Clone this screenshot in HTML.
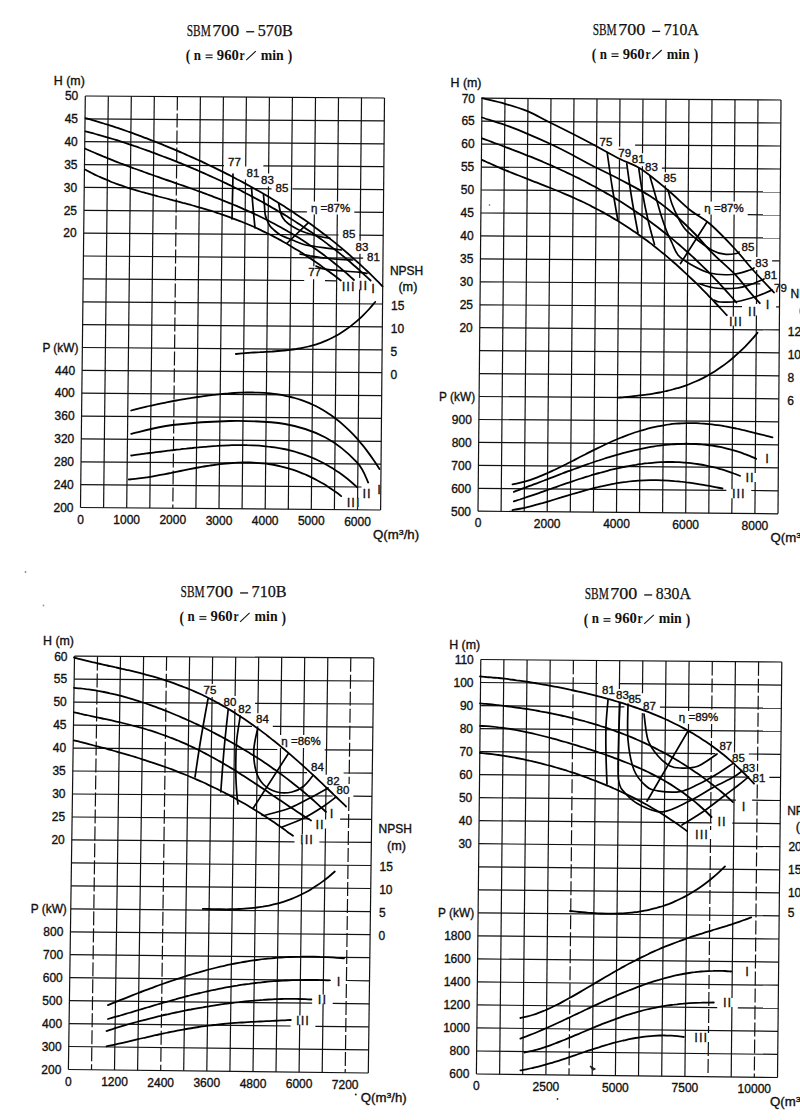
<!DOCTYPE html>
<html><head><meta charset="utf-8"><title>SBM700 pump performance curves</title><style>
html,body{margin:0;padding:0;background:#fff;}
svg{display:block;}
.g{stroke:#111;stroke-width:1.2;}
.gd{stroke:#111;stroke-dasharray:14 3;}
.c{stroke:#000;stroke-width:1.8;fill:none;stroke-linecap:round;stroke-linejoin:round;}
.e{stroke:#000;stroke-width:1.7;fill:none;stroke-linecap:round;stroke-linejoin:round;}
.t{font-family:"Liberation Sans",Arial,sans-serif;font-size:12px;fill:#111;stroke:#111;stroke-width:0.35px;}
.t2{font-size:11.5px;}
.r{font-family:"Liberation Sans",Arial,sans-serif;font-size:13px;letter-spacing:1px;fill:#111;stroke:#111;stroke-width:0.3px;}
.h1{font-family:"Liberation Serif","Noto Serif SC",serif;font-size:16px;fill:#111;stroke:#111;stroke-width:0.25px;}
.h2{font-family:"Liberation Serif","Noto Serif SC",serif;font-size:15px;font-weight:bold;fill:#111;}
</style></head><body>
<svg width="800" height="1120" viewBox="0 0 800 1120">
<rect width="800" height="1120" fill="#fff"/>
<line class="g" x1="85.3" y1="96.0" x2="80.5" y2="507.5"/>
<line class="g" x1="108.3" y1="96.2" x2="103.6" y2="507.7"/>
<line class="g" x1="131.3" y1="96.3" x2="126.7" y2="507.9"/>
<line class="g" x1="154.3" y1="96.5" x2="149.8" y2="508.1"/>
<line class="g gd" x1="177.4" y1="96.6" x2="172.8" y2="508.3"/>
<line class="g" x1="200.4" y1="96.8" x2="195.9" y2="508.5"/>
<line class="g" x1="223.4" y1="96.9" x2="219.0" y2="508.7"/>
<line class="g" x1="246.4" y1="97.1" x2="245.7" y2="166.5"/>
<line class="g" x1="245.5" y1="179.5" x2="242.1" y2="508.8"/>
<line class="g" x1="269.4" y1="97.2" x2="268.6" y2="173.5"/>
<line class="g" x1="268.5" y1="186.5" x2="265.2" y2="509.0"/>
<line class="g" x1="292.4" y1="97.4" x2="288.3" y2="509.2"/>
<line class="g" x1="315.5" y1="97.5" x2="314.4" y2="201.5"/>
<line class="g" x1="314.3" y1="214.5" x2="313.8" y2="266.2"/>
<line class="g" x1="313.6" y1="279.2" x2="311.3" y2="509.4"/>
<line class="g" x1="338.5" y1="97.7" x2="337.5" y2="201.5"/>
<line class="g" x1="337.3" y1="214.5" x2="334.4" y2="509.6"/>
<line class="g" x1="361.5" y1="97.8" x2="360.1" y2="240.7"/>
<line class="g" x1="360.0" y1="253.7" x2="359.7" y2="278.0"/>
<line class="g" x1="359.6" y1="289.5" x2="357.6" y2="498.2"/>
<line class="g" x1="357.5" y1="507.2" x2="357.5" y2="509.8"/>
<line class="g" x1="384.5" y1="98.0" x2="380.6" y2="510.0"/>
<line class="g" x1="85.3" y1="96.0" x2="384.5" y2="98.0"/>
<line class="g" x1="85.0" y1="118.9" x2="384.3" y2="120.9"/>
<line class="g" x1="84.8" y1="141.7" x2="384.1" y2="143.8"/>
<line class="g" x1="84.5" y1="164.6" x2="224.0" y2="165.6"/>
<line class="g" x1="263.4" y1="165.8" x2="383.9" y2="166.7"/>
<line class="g" x1="84.2" y1="187.4" x2="271.6" y2="188.8"/>
<line class="g" x1="292.4" y1="188.9" x2="383.6" y2="189.6"/>
<line class="g" x1="84.0" y1="210.3" x2="306.9" y2="211.9"/>
<line class="g" x1="354.3" y1="212.2" x2="383.4" y2="212.4"/>
<line class="g" x1="83.7" y1="233.2" x2="338.6" y2="235.0"/>
<line class="g" x1="359.4" y1="235.2" x2="383.2" y2="235.3"/>
<line class="g" x1="83.4" y1="256.0" x2="363.1" y2="258.1"/>
<line class="g" x1="83.2" y1="278.9" x2="304.2" y2="280.5"/>
<line class="g" x1="325.0" y1="280.7" x2="336.2" y2="280.8"/>
<line class="g" x1="82.9" y1="301.8" x2="382.6" y2="304.0"/>
<line class="g" x1="82.6" y1="324.6" x2="382.3" y2="326.9"/>
<line class="g" x1="82.4" y1="347.5" x2="382.1" y2="349.8"/>
<line class="g" x1="82.1" y1="370.3" x2="381.9" y2="372.7"/>
<line class="g" x1="81.8" y1="393.2" x2="381.7" y2="395.6"/>
<line class="g" x1="81.6" y1="416.1" x2="381.5" y2="418.4"/>
<line class="g" x1="81.3" y1="438.9" x2="381.2" y2="441.3"/>
<line class="g" x1="81.0" y1="461.8" x2="381.0" y2="464.2"/>
<line class="g" x1="80.8" y1="484.6" x2="361.5" y2="487.0"/>
<line class="g" x1="80.5" y1="507.5" x2="380.6" y2="510.0"/>
<line class="g" x1="482.0" y1="98.2" x2="478.0" y2="511.2"/>
<line class="g" x1="505.0" y1="98.4" x2="501.1" y2="511.4"/>
<line class="g" x1="528.0" y1="98.5" x2="524.2" y2="511.6"/>
<line class="g" x1="551.0" y1="98.7" x2="547.2" y2="511.8"/>
<line class="g" x1="574.0" y1="98.8" x2="570.3" y2="512.0"/>
<line class="g" x1="597.0" y1="98.9" x2="593.4" y2="512.2"/>
<line class="g" x1="620.0" y1="99.1" x2="619.6" y2="146.5"/>
<line class="g" x1="619.5" y1="159.5" x2="616.5" y2="512.4"/>
<line class="g" x1="643.0" y1="99.2" x2="642.5" y2="153.2"/>
<line class="g" x1="642.4" y1="166.2" x2="639.5" y2="512.6"/>
<line class="g" x1="666.0" y1="99.3" x2="665.4" y2="172.3"/>
<line class="g" x1="665.3" y1="185.3" x2="662.6" y2="512.8"/>
<line class="g" x1="689.0" y1="99.5" x2="685.7" y2="513.0"/>
<line class="g" x1="712.0" y1="99.6" x2="711.2" y2="201.5"/>
<line class="g" x1="711.1" y1="214.5" x2="708.8" y2="513.2"/>
<line class="g" x1="735.0" y1="99.7" x2="734.2" y2="201.5"/>
<line class="g" x1="734.1" y1="214.5" x2="733.3" y2="316.5"/>
<line class="g" x1="733.3" y1="325.5" x2="732.0" y2="489.2"/>
<line class="g" x1="732.0" y1="498.2" x2="731.8" y2="513.4"/>
<line class="g" x1="758.0" y1="99.9" x2="756.8" y2="257.0"/>
<line class="g" x1="756.7" y1="270.0" x2="756.5" y2="304.0"/>
<line class="g" x1="756.4" y1="315.5" x2="755.2" y2="473.0"/>
<line class="g" x1="755.2" y1="482.0" x2="754.9" y2="513.6"/>
<line class="g" x1="781.0" y1="100.0" x2="778.0" y2="513.8"/>
<line class="g" x1="482.0" y1="98.2" x2="781.0" y2="100.0"/>
<line class="g" x1="481.8" y1="121.2" x2="780.8" y2="123.0"/>
<line class="g" x1="481.6" y1="144.1" x2="595.6" y2="144.8"/>
<line class="g" x1="635.1" y1="145.1" x2="780.7" y2="146.0"/>
<line class="g" x1="481.3" y1="167.1" x2="627.8" y2="168.0"/>
<line class="g" x1="661.9" y1="168.2" x2="780.5" y2="169.0"/>
<line class="g" x1="481.1" y1="190.0" x2="780.3" y2="191.9"/>
<line class="g" x1="480.9" y1="213.0" x2="700.3" y2="214.4"/>
<line class="g" x1="747.7" y1="214.7" x2="780.2" y2="214.9"/>
<line class="g" x1="480.7" y1="235.9" x2="780.0" y2="237.9"/>
<line class="g" x1="480.4" y1="258.9" x2="751.3" y2="260.7"/>
<line class="g" x1="772.1" y1="260.8" x2="779.8" y2="260.9"/>
<line class="g" x1="480.2" y1="281.8" x2="760.3" y2="283.8"/>
<line class="g" x1="480.0" y1="304.8" x2="742.0" y2="306.6"/>
<line class="g" x1="776.1" y1="306.9" x2="779.5" y2="306.9"/>
<line class="g" x1="479.8" y1="327.7" x2="779.3" y2="329.9"/>
<line class="g" x1="479.6" y1="350.6" x2="779.2" y2="352.8"/>
<line class="g" x1="479.3" y1="373.6" x2="779.0" y2="375.8"/>
<line class="g" x1="479.1" y1="396.5" x2="778.8" y2="398.8"/>
<line class="g" x1="478.9" y1="419.5" x2="778.7" y2="421.8"/>
<line class="g" x1="478.7" y1="442.4" x2="778.5" y2="444.8"/>
<line class="g" x1="478.4" y1="465.4" x2="778.3" y2="467.8"/>
<line class="g" x1="478.2" y1="488.3" x2="726.3" y2="490.3"/>
<line class="g" x1="751.2" y1="490.5" x2="778.2" y2="490.8"/>
<line class="g" x1="478.0" y1="511.2" x2="778.0" y2="513.8"/>
<line class="g" x1="74.5" y1="656.2" x2="68.4" y2="1069.5"/>
<line class="g gd" x1="97.5" y1="656.4" x2="91.5" y2="1069.8"/>
<line class="g" x1="120.5" y1="656.5" x2="114.5" y2="1070.0"/>
<line class="g" x1="143.6" y1="656.6" x2="137.6" y2="1070.3"/>
<line class="g gd" x1="166.6" y1="656.8" x2="160.7" y2="1070.6"/>
<line class="g" x1="189.6" y1="656.9" x2="183.7" y2="1070.8"/>
<line class="g" x1="212.6" y1="657.0" x2="212.3" y2="684.0"/>
<line class="g" x1="212.1" y1="697.0" x2="206.8" y2="1071.1"/>
<line class="g" x1="235.7" y1="657.1" x2="235.1" y2="696.0"/>
<line class="g" x1="234.9" y1="709.0" x2="229.9" y2="1071.4"/>
<line class="g" x1="258.7" y1="657.3" x2="257.9" y2="713.2"/>
<line class="g" x1="257.7" y1="726.2" x2="253.0" y2="1071.7"/>
<line class="g" x1="281.7" y1="657.4" x2="280.6" y2="735.0"/>
<line class="g" x1="280.5" y1="748.0" x2="276.0" y2="1071.9"/>
<line class="g" x1="304.7" y1="657.5" x2="303.7" y2="735.0"/>
<line class="g" x1="303.5" y1="748.0" x2="302.3" y2="834.5"/>
<line class="g" x1="302.2" y1="843.5" x2="299.9" y2="1015.5"/>
<line class="g" x1="299.7" y1="1024.5" x2="299.1" y2="1072.2"/>
<line class="g" x1="327.8" y1="657.6" x2="326.2" y2="774.7"/>
<line class="g" x1="326.0" y1="787.7" x2="325.6" y2="819.5"/>
<line class="g" x1="325.5" y1="828.5" x2="323.2" y2="994.5"/>
<line class="g" x1="323.1" y1="1003.5" x2="322.2" y2="1072.5"/>
<line class="g gd" x1="350.8" y1="657.8" x2="349.1" y2="784.0"/>
<line class="g gd" x1="348.9" y1="797.0" x2="345.2" y2="1072.7"/>
<line class="g" x1="373.8" y1="657.9" x2="368.3" y2="1073.0"/>
<line class="g" x1="74.5" y1="656.2" x2="373.8" y2="657.9"/>
<line class="g" x1="74.2" y1="679.2" x2="373.5" y2="681.0"/>
<line class="g" x1="73.8" y1="702.2" x2="219.6" y2="703.1"/>
<line class="g" x1="255.1" y1="703.3" x2="373.2" y2="704.0"/>
<line class="g" x1="73.5" y1="725.1" x2="252.0" y2="726.3"/>
<line class="g" x1="272.8" y1="726.4" x2="372.9" y2="727.1"/>
<line class="g" x1="73.1" y1="748.1" x2="277.3" y2="749.5"/>
<line class="g" x1="324.7" y1="749.8" x2="372.6" y2="750.1"/>
<line class="g" x1="72.8" y1="771.0" x2="307.1" y2="772.7"/>
<line class="g" x1="343.6" y1="773.0" x2="372.3" y2="773.2"/>
<line class="g" x1="72.5" y1="794.0" x2="332.6" y2="796.0"/>
<line class="g" x1="353.4" y1="796.1" x2="372.0" y2="796.3"/>
<line class="g" x1="72.1" y1="817.0" x2="309.7" y2="818.8"/>
<line class="g" x1="340.1" y1="819.1" x2="371.7" y2="819.3"/>
<line class="g" x1="71.8" y1="839.9" x2="294.5" y2="841.8"/>
<line class="g" x1="319.4" y1="842.0" x2="371.4" y2="842.4"/>
<line class="g" x1="71.5" y1="862.9" x2="371.1" y2="865.5"/>
<line class="g" x1="71.1" y1="885.8" x2="370.7" y2="888.5"/>
<line class="g" x1="70.8" y1="908.8" x2="370.4" y2="911.6"/>
<line class="g" x1="70.4" y1="931.8" x2="370.1" y2="934.6"/>
<line class="g" x1="70.1" y1="954.7" x2="369.8" y2="957.7"/>
<line class="g" x1="69.8" y1="977.7" x2="330.9" y2="980.4"/>
<line class="g" x1="347.1" y1="980.5" x2="369.5" y2="980.8"/>
<line class="g" x1="69.4" y1="1000.6" x2="312.1" y2="1003.2"/>
<line class="g" x1="332.7" y1="1003.4" x2="369.2" y2="1003.8"/>
<line class="g" x1="69.1" y1="1023.6" x2="290.6" y2="1026.0"/>
<line class="g" x1="315.4" y1="1026.3" x2="368.9" y2="1026.9"/>
<line class="g" x1="68.7" y1="1046.5" x2="368.6" y2="1049.9"/>
<line class="g" x1="68.4" y1="1069.5" x2="368.3" y2="1073.0"/>
<line class="g" x1="480.8" y1="659.5" x2="476.4" y2="1074.0"/>
<line class="g" x1="503.9" y1="659.7" x2="499.6" y2="1074.3"/>
<line class="g" x1="527.1" y1="659.9" x2="522.7" y2="1074.5"/>
<line class="g" x1="550.2" y1="660.1" x2="545.9" y2="1074.8"/>
<line class="g gd" x1="573.4" y1="660.3" x2="569.0" y2="1075.1"/>
<line class="g" x1="596.5" y1="660.5" x2="592.2" y2="1075.3"/>
<line class="g" x1="619.7" y1="660.7" x2="619.4" y2="689.0"/>
<line class="g" x1="619.2" y1="702.0" x2="615.4" y2="1075.6"/>
<line class="g" x1="642.8" y1="660.8" x2="642.5" y2="693.3"/>
<line class="g" x1="642.3" y1="713.0" x2="638.5" y2="1075.9"/>
<line class="g" x1="666.0" y1="661.0" x2="661.7" y2="1076.2"/>
<line class="g" x1="689.1" y1="661.2" x2="688.6" y2="711.0"/>
<line class="g" x1="688.5" y1="724.0" x2="684.9" y2="1076.4"/>
<line class="g gd" x1="712.3" y1="661.4" x2="711.8" y2="711.0"/>
<line class="g gd" x1="711.6" y1="724.0" x2="710.6" y2="830.0"/>
<line class="g gd" x1="710.5" y1="839.0" x2="708.5" y2="1033.0"/>
<line class="g gd" x1="708.4" y1="1042.0" x2="708.0" y2="1076.7"/>
<line class="g" x1="735.4" y1="661.6" x2="734.5" y2="752.4"/>
<line class="g" x1="734.4" y1="765.4" x2="732.0" y2="998.0"/>
<line class="g" x1="731.9" y1="1007.0" x2="731.2" y2="1077.0"/>
<line class="g gd" x1="758.6" y1="661.8" x2="757.5" y2="771.6"/>
<line class="g gd" x1="757.3" y1="784.6" x2="754.3" y2="1077.2"/>
<line class="g" x1="781.8" y1="662.0" x2="777.5" y2="1077.5"/>
<line class="g" x1="480.8" y1="659.5" x2="781.8" y2="662.0"/>
<line class="g" x1="480.5" y1="682.5" x2="598.1" y2="683.5"/>
<line class="g" x1="618.9" y1="683.7" x2="781.5" y2="685.1"/>
<line class="g" x1="480.3" y1="705.6" x2="624.4" y2="706.8"/>
<line class="g" x1="659.9" y1="707.1" x2="781.3" y2="708.2"/>
<line class="g" x1="480.0" y1="728.6" x2="781.0" y2="731.2"/>
<line class="g" x1="479.8" y1="751.6" x2="715.4" y2="753.7"/>
<line class="g" x1="748.8" y1="754.0" x2="780.8" y2="754.3"/>
<line class="g" x1="479.5" y1="774.6" x2="748.5" y2="777.1"/>
<line class="g" x1="769.3" y1="777.3" x2="780.6" y2="777.4"/>
<line class="g" x1="479.3" y1="797.7" x2="735.9" y2="800.1"/>
<line class="g" x1="752.1" y1="800.2" x2="780.3" y2="800.5"/>
<line class="g" x1="479.1" y1="820.7" x2="711.7" y2="822.9"/>
<line class="g" x1="732.3" y1="823.1" x2="780.1" y2="823.6"/>
<line class="g" x1="478.8" y1="843.7" x2="779.9" y2="846.7"/>
<line class="g" x1="478.6" y1="866.8" x2="779.6" y2="869.8"/>
<line class="g" x1="478.3" y1="889.8" x2="779.4" y2="892.8"/>
<line class="g" x1="478.1" y1="912.8" x2="779.2" y2="915.9"/>
<line class="g" x1="477.9" y1="935.8" x2="778.9" y2="939.0"/>
<line class="g" x1="477.6" y1="958.9" x2="778.7" y2="962.1"/>
<line class="g" x1="477.4" y1="981.9" x2="778.4" y2="985.2"/>
<line class="g" x1="477.1" y1="1004.9" x2="717.2" y2="1007.6"/>
<line class="g" x1="737.8" y1="1007.8" x2="778.2" y2="1008.2"/>
<line class="g" x1="476.9" y1="1027.9" x2="778.0" y2="1031.3"/>
<line class="g" x1="476.6" y1="1051.0" x2="777.7" y2="1054.4"/>
<line class="g" x1="476.4" y1="1074.0" x2="777.5" y2="1077.5"/>
<path class="c" d="M85.5,118.2C86.5,118.5 89.5,119.3 91.6,119.9C93.6,120.5 95.6,121.1 97.6,121.7C99.6,122.3 101.7,122.9 103.7,123.5C105.7,124.1 107.7,124.8 109.7,125.4C111.8,126.0 113.8,126.7 115.8,127.4C117.8,128.0 119.8,128.7 121.9,129.4C123.9,130.1 125.9,130.8 127.9,131.5C129.9,132.2 132.0,132.9 134.0,133.7C136.0,134.4 138.0,135.2 140.1,135.9C142.1,136.7 144.1,137.4 146.1,138.2C148.1,139.0 150.2,139.7 152.2,140.5C154.2,141.3 156.2,142.1 158.2,142.9C160.3,143.7 162.3,144.5 164.3,145.4C166.3,146.2 168.3,147.0 170.4,147.9C172.4,148.7 174.4,149.6 176.4,150.4C178.4,151.3 180.5,152.2 182.5,153.0C184.5,153.9 186.5,154.8 188.5,155.7C190.6,156.6 192.6,157.5 194.6,158.4C196.6,159.3 198.6,160.3 200.7,161.2C202.7,162.1 204.7,163.1 206.7,164.0C208.7,165.0 210.8,166.0 212.8,166.9C214.8,167.9 216.8,168.9 218.8,169.9C220.9,170.9 222.9,171.9 224.9,172.9C226.9,173.9 228.9,175.0 231.0,176.0C233.0,177.0 235.0,178.1 237.0,179.2C239.1,180.2 241.1,181.3 243.1,182.4C245.1,183.5 247.1,184.6 249.2,185.7C251.2,186.8 253.2,187.9 255.2,189.1C257.2,190.2 259.3,191.4 261.3,192.5C263.3,193.7 265.3,194.9 267.3,196.1C269.4,197.3 271.4,198.5 273.4,199.7C275.4,200.9 277.4,202.1 279.5,203.4C281.5,204.7 283.5,205.9 285.5,207.2C287.5,208.5 289.6,209.8 291.6,211.1C293.6,212.5 295.6,213.8 297.6,215.2C299.7,216.5 301.7,217.9 303.7,219.3C305.7,220.7 307.7,222.1 309.8,223.6C311.8,225.0 313.8,226.5 315.8,228.0C317.8,229.4 319.9,231.0 321.9,232.5C323.9,234.0 325.9,235.6 327.9,237.1C330.0,238.7 332.0,240.3 334.0,241.9C336.0,243.6 338.1,245.2 340.1,246.9C342.1,248.6 344.1,250.3 346.1,252.0C348.2,253.7 350.2,255.5 352.2,257.3C354.2,259.1 356.2,260.9 358.3,262.7C360.3,264.6 362.3,266.4 364.3,268.4C366.3,270.3 368.4,272.2 370.4,274.2C372.4,276.2 374.4,278.2 376.4,280.2C378.5,282.2 381.5,285.4 382.5,286.4"/>
<path class="c" d="M85.5,131.4C86.5,131.6 89.5,132.4 91.6,132.9C93.6,133.5 95.6,134.0 97.6,134.6C99.7,135.2 101.7,135.7 103.7,136.3C105.7,136.9 107.7,137.5 109.8,138.1C111.8,138.7 113.8,139.3 115.8,139.9C117.9,140.6 119.9,141.2 121.9,141.9C123.9,142.5 125.9,143.2 128.0,143.8C130.0,144.5 132.0,145.2 134.0,145.9C136.0,146.5 138.1,147.2 140.1,148.0C142.1,148.7 144.1,149.4 146.2,150.1C148.2,150.8 150.2,151.6 152.2,152.3C154.2,153.0 156.3,153.8 158.3,154.6C160.3,155.3 162.3,156.1 164.4,156.9C166.4,157.6 168.4,158.4 170.4,159.2C172.4,160.0 174.5,160.8 176.5,161.6C178.5,162.4 180.5,163.3 182.6,164.1C184.6,164.9 186.6,165.8 188.6,166.6C190.6,167.5 192.7,168.3 194.7,169.2C196.7,170.0 198.7,170.9 200.8,171.8C202.8,172.7 204.8,173.6 206.8,174.5C208.8,175.4 210.9,176.3 212.9,177.2C214.9,178.2 216.9,179.1 219.0,180.0C221.0,181.0 223.0,181.9 225.0,182.9C227.0,183.9 229.1,184.8 231.1,185.8C233.1,186.8 235.1,187.8 237.1,188.8C239.2,189.8 241.2,190.8 243.2,191.9C245.2,192.9 247.3,194.0 249.3,195.0C251.3,196.1 253.3,197.1 255.3,198.2C257.4,199.3 259.4,200.4 261.4,201.5C263.4,202.6 265.5,203.7 267.5,204.9C269.5,206.0 271.5,207.2 273.5,208.4C275.6,209.5 277.6,210.7 279.6,211.9C281.6,213.1 283.7,214.3 285.7,215.6C287.7,216.8 289.7,218.1 291.7,219.3C293.8,220.6 295.8,221.9 297.8,223.2C299.8,224.5 301.9,225.8 303.9,227.2C305.9,228.5 307.9,229.9 309.9,231.3C312.0,232.7 314.0,234.1 316.0,235.5C318.0,237.0 320.1,238.4 322.1,239.9C324.1,241.4 326.1,242.9 328.1,244.4C330.2,245.9 332.2,247.5 334.2,249.0C336.2,250.6 338.2,252.2 340.3,253.9C342.3,255.5 344.3,257.1 346.3,258.8C348.4,260.5 350.4,262.2 352.4,264.0C354.4,265.7 356.4,267.5 358.5,269.3C360.5,271.1 362.5,272.9 364.5,274.8C366.6,276.7 369.6,279.5 370.6,280.5"/>
<path class="c" d="M85.5,148.7C86.5,149.2 89.6,150.6 91.6,151.5C93.6,152.3 95.7,153.2 97.7,154.1C99.7,155.0 101.8,155.8 103.8,156.7C105.8,157.5 107.9,158.3 109.9,159.1C111.9,160.0 114.0,160.8 116.0,161.6C118.0,162.4 120.1,163.1 122.1,163.9C124.1,164.7 126.2,165.5 128.2,166.2C130.2,167.0 132.3,167.7 134.3,168.5C136.4,169.2 138.4,170.0 140.4,170.7C142.5,171.4 144.5,172.2 146.5,172.9C148.6,173.6 150.6,174.3 152.6,175.0C154.7,175.8 156.7,176.5 158.7,177.2C160.8,177.9 162.8,178.6 164.8,179.3C166.9,180.0 168.9,180.7 170.9,181.4C173.0,182.1 175.0,182.8 177.0,183.6C179.1,184.3 181.1,185.0 183.1,185.7C185.2,186.4 187.2,187.1 189.2,187.9C191.3,188.6 193.3,189.3 195.3,190.0C197.4,190.8 199.4,191.5 201.4,192.2C203.5,193.0 205.5,193.7 207.5,194.5C209.6,195.3 211.6,196.0 213.6,196.8C215.7,197.6 217.7,198.4 219.8,199.1C221.8,199.9 223.8,200.7 225.9,201.6C227.9,202.4 229.9,203.2 232.0,204.0C234.0,204.9 236.0,205.7 238.1,206.6C240.1,207.5 242.1,208.4 244.2,209.3C246.2,210.1 248.2,211.1 250.3,212.0C252.3,212.9 254.3,213.9 256.4,214.8C258.4,215.8 260.4,216.8 262.5,217.8C264.5,218.8 266.5,219.8 268.6,220.8C270.6,221.9 272.6,222.9 274.7,224.0C276.7,225.1 278.7,226.2 280.8,227.3C282.8,228.4 284.8,229.6 286.9,230.8C288.9,231.9 290.9,233.1 293.0,234.3C295.0,235.6 297.0,236.8 299.1,238.1C301.1,239.4 303.1,240.7 305.2,242.0C307.2,243.3 309.2,244.7 311.3,246.1C313.3,247.5 315.4,248.9 317.4,250.3C319.4,251.8 321.5,253.3 323.5,254.8C325.5,256.3 327.6,257.8 329.6,259.4C331.6,261.0 333.7,262.6 335.7,264.2C337.7,265.9 339.8,267.5 341.8,269.3C343.8,271.0 345.9,272.7 347.9,274.5C349.9,276.3 353.0,279.1 354.0,280.0"/>
<path class="c" d="M85.5,169.8C86.5,170.4 89.6,172.0 91.6,173.0C93.6,174.1 95.6,175.1 97.7,176.0C99.7,176.9 101.7,177.9 103.7,178.7C105.8,179.6 107.8,180.4 109.8,181.2C111.8,182.1 113.9,182.8 115.9,183.6C117.9,184.3 119.9,185.0 122.0,185.7C124.0,186.4 126.0,187.1 128.0,187.8C130.1,188.4 132.1,189.0 134.1,189.7C136.1,190.3 138.2,190.9 140.2,191.5C142.2,192.1 144.2,192.6 146.3,193.2C148.3,193.7 150.3,194.3 152.4,194.8C154.4,195.4 156.4,195.9 158.4,196.5C160.5,197.0 162.5,197.5 164.5,198.0C166.5,198.6 168.6,199.1 170.6,199.6C172.6,200.1 174.6,200.7 176.7,201.2C178.7,201.7 180.7,202.2 182.7,202.8C184.8,203.3 186.8,203.9 188.8,204.4C190.8,205.0 192.9,205.5 194.9,206.1C196.9,206.7 198.9,207.2 201.0,207.8C203.0,208.4 205.0,209.0 207.0,209.6C209.1,210.2 211.1,210.9 213.1,211.5C215.2,212.2 217.2,212.8 219.2,213.5C221.2,214.2 223.3,214.9 225.3,215.6C227.3,216.3 229.3,217.0 231.4,217.8C233.4,218.5 235.4,219.3 237.4,220.1C239.5,220.8 241.5,221.7 243.5,222.5C245.5,223.3 247.6,224.2 249.6,225.0C251.6,225.9 253.6,226.8 255.7,227.7C257.7,228.7 259.7,229.6 261.7,230.6C263.8,231.5 265.8,232.5 267.8,233.5C269.8,234.5 271.9,235.6 273.9,236.6C275.9,237.7 278.0,238.8 280.0,239.9C282.0,241.0 284.0,242.2 286.1,243.3C288.1,244.5 290.1,245.7 292.1,246.9C294.2,248.1 296.2,249.3 298.2,250.6C300.2,251.9 302.3,253.1 304.3,254.4C306.3,255.8 308.3,257.1 310.4,258.4C312.4,259.8 314.4,261.2 316.4,262.6C318.5,264.0 320.5,265.4 322.5,266.9C324.5,268.3 326.6,269.8 328.6,271.3C330.6,272.8 332.6,274.3 334.7,275.8C336.7,277.4 339.7,279.7 340.8,280.5"/>
<path class="e" d="M233.0,174.0C232.9,177.8 232.7,189.5 232.5,197.0C232.3,204.5 232.1,215.3 232.0,219.0"/>
<path class="e" d="M251.5,187.5C251.8,190.8 252.4,200.2 253.0,207.0C253.6,213.8 254.7,224.5 255.0,228.0"/>
<path class="e" d="M263.5,194.5C263.6,196.2 264.1,201.8 264.4,205.0C264.7,208.2 264.7,211.5 265.1,214.0C265.5,216.5 266.2,218.0 267.0,220.0C267.8,222.0 268.8,224.2 270.0,226.0C271.2,227.8 272.8,229.0 274.5,230.5C276.2,232.0 278.4,233.8 280.5,235.0C282.6,236.2 284.9,237.0 287.2,238.0C289.6,239.0 292.0,239.9 294.8,241.0C297.5,242.1 300.4,243.6 303.8,244.5C307.1,245.4 310.8,245.9 315.0,246.5C319.2,247.1 324.3,247.7 328.8,248.3C333.2,248.9 339.4,249.7 341.5,250.0"/>
<path class="e" d="M278.6,203.2C278.7,203.5 278.7,203.5 279.0,205.0C279.3,206.5 279.9,210.4 280.5,212.5C281.1,214.6 281.8,216.1 282.8,217.8C283.8,219.4 285.0,220.9 286.5,222.2C288.0,223.6 289.8,224.8 291.8,226.0C293.8,227.2 296.1,228.6 298.5,229.8C300.9,230.9 303.5,231.9 306.0,232.8C308.5,233.6 310.8,234.3 313.5,235.0C316.2,235.7 319.2,236.4 322.0,237.0C324.8,237.6 328.7,238.1 330.0,238.3"/>
<path class="e" d="M300.0,254.0C301.7,254.3 305.8,255.1 310.0,255.8C314.2,256.4 320.0,257.4 325.0,258.0C330.0,258.6 335.4,259.2 340.0,259.5C344.6,259.8 350.6,259.9 352.8,260.0"/>
<path class="e" d="M316.0,266.0C317.5,266.5 320.4,268.4 325.0,269.2C329.6,270.1 338.1,270.5 343.8,271.0C349.4,271.5 354.9,271.9 358.8,272.2C362.6,272.6 365.6,273.2 367.0,273.4"/>
<path class="e" d="M308.2,222.8L287.2,243.0"/>
<path class="c" d="M131.2,410.5C132.3,410.2 135.3,409.4 137.3,408.9C139.3,408.4 141.3,407.9 143.4,407.4C145.4,406.9 147.4,406.5 149.4,406.0C151.4,405.5 153.5,405.1 155.5,404.7C157.5,404.2 159.5,403.8 161.5,403.4C163.5,403.0 165.6,402.6 167.6,402.2C169.6,401.8 171.6,401.4 173.6,401.0C175.7,400.6 177.7,400.3 179.7,399.9C181.7,399.6 183.7,399.2 185.7,398.9C187.8,398.6 189.8,398.2 191.8,397.9C193.8,397.6 195.8,397.3 197.9,397.0C199.9,396.7 201.9,396.4 203.9,396.1C205.9,395.9 207.9,395.6 210.0,395.3C212.0,395.1 214.0,394.8 216.0,394.6C218.0,394.4 220.1,394.2 222.1,394.0C224.1,393.8 226.1,393.6 228.1,393.5C230.1,393.3 232.2,393.2 234.2,393.0C236.2,392.9 238.2,392.8 240.2,392.7C242.3,392.6 244.3,392.6 246.3,392.5C248.3,392.5 250.3,392.5 252.3,392.5C254.4,392.5 256.4,392.6 258.4,392.6C260.4,392.7 262.4,392.8 264.5,392.9C266.5,393.1 268.5,393.3 270.5,393.5C272.5,393.7 274.5,393.9 276.6,394.2C278.6,394.5 280.6,394.8 282.6,395.2C284.6,395.6 286.7,396.0 288.7,396.5C290.7,396.9 292.7,397.4 294.7,398.0C296.8,398.6 298.8,399.2 300.8,399.9C302.8,400.6 304.8,401.3 306.8,402.1C308.9,403.0 310.9,403.8 312.9,404.8C314.9,405.7 316.9,406.7 319.0,407.8C321.0,408.9 323.0,410.0 325.0,411.3C327.0,412.5 329.0,413.9 331.1,415.3C333.1,416.7 335.1,418.2 337.1,419.8C339.1,421.3 341.2,423.0 343.2,424.8C345.2,426.6 347.2,428.5 349.2,430.4C351.2,432.4 353.3,434.5 355.3,436.7C357.3,438.9 359.3,441.2 361.3,443.7C363.4,446.1 365.4,448.7 367.4,451.4C369.4,454.1 371.4,456.9 373.4,459.8C375.5,462.8 378.5,467.5 379.5,469.1"/>
<path class="c" d="M131.2,433.8C138.1,432.3 156.0,427.1 172.5,425.0C189.0,422.9 211.2,421.2 230.0,421.0C248.8,420.8 269.1,421.2 285.0,424.0C300.9,426.8 313.5,431.1 325.5,437.5C337.5,443.9 349.9,454.8 357.0,462.3C364.1,469.8 366.4,479.1 368.2,482.5"/>
<path class="c" d="M131.2,455.5C132.3,455.3 135.3,454.9 137.4,454.6C139.4,454.4 141.4,454.1 143.5,453.8C145.5,453.5 147.5,453.3 149.6,453.0C151.6,452.8 153.6,452.5 155.7,452.2C157.7,452.0 159.7,451.7 161.8,451.5C163.8,451.2 165.8,451.0 167.9,450.7C169.9,450.5 171.9,450.2 174.0,450.0C176.0,449.7 178.0,449.5 180.1,449.3C182.1,449.0 184.1,448.8 186.2,448.6C188.2,448.4 190.2,448.2 192.3,448.0C194.3,447.7 196.3,447.5 198.4,447.4C200.4,447.2 202.4,447.0 204.5,446.8C206.5,446.6 208.5,446.5 210.6,446.3C212.6,446.2 214.6,446.0 216.7,445.9C218.7,445.8 220.7,445.7 222.8,445.6C224.8,445.5 226.8,445.4 228.9,445.3C230.9,445.2 232.9,445.2 235.0,445.1C237.0,445.1 239.0,445.1 241.1,445.1C243.1,445.1 245.1,445.1 247.2,445.2C249.2,445.2 251.2,445.3 253.3,445.4C255.3,445.5 257.3,445.6 259.4,445.7C261.4,445.9 263.4,446.1 265.5,446.3C267.5,446.5 269.5,446.7 271.6,447.0C273.6,447.2 275.6,447.5 277.7,447.9C279.7,448.2 281.8,448.6 283.8,449.0C285.8,449.4 287.9,449.9 289.9,450.4C291.9,450.9 294.0,451.4 296.0,452.0C298.0,452.6 300.1,453.2 302.1,453.9C304.1,454.6 306.2,455.3 308.2,456.1C310.2,456.9 312.3,457.7 314.3,458.6C316.3,459.5 318.4,460.4 320.4,461.5C322.4,462.5 324.5,463.5 326.5,464.7C328.5,465.8 330.6,467.0 332.6,468.3C334.6,469.6 336.7,470.9 338.7,472.3C340.7,473.7 342.8,475.2 344.8,476.8C346.8,478.3 348.9,480.0 350.9,481.7C352.9,483.4 356.0,486.2 357.0,487.1"/>
<path class="c" d="M128.8,479.5C129.8,479.4 132.8,479.1 134.8,478.9C136.8,478.7 138.9,478.5 140.9,478.2C142.9,477.9 144.9,477.6 147.0,477.3C149.0,477.0 151.0,476.7 153.0,476.3C155.1,476.0 157.1,475.6 159.1,475.2C161.1,474.8 163.2,474.5 165.2,474.1C167.2,473.7 169.2,473.3 171.2,472.9C173.3,472.4 175.3,472.0 177.3,471.6C179.3,471.2 181.4,470.8 183.4,470.4C185.4,470.0 187.4,469.6 189.5,469.2C191.5,468.8 193.5,468.4 195.5,468.0C197.6,467.6 199.6,467.3 201.6,466.9C203.6,466.5 205.7,466.2 207.7,465.9C209.7,465.6 211.7,465.2 213.8,465.0C215.8,464.7 217.8,464.4 219.8,464.1C221.8,463.9 223.9,463.7 225.9,463.5C227.9,463.3 229.9,463.1 232.0,463.0C234.0,462.8 236.0,462.7 238.0,462.6C240.1,462.5 242.1,462.5 244.1,462.5C246.1,462.5 248.2,462.5 250.2,462.5C252.2,462.6 254.2,462.7 256.2,462.8C258.3,462.9 260.3,463.1 262.3,463.3C264.3,463.5 266.4,463.7 268.4,464.0C270.4,464.3 272.4,464.6 274.5,465.0C276.5,465.4 278.5,465.8 280.5,466.3C282.6,466.8 284.6,467.3 286.6,467.8C288.6,468.4 290.7,469.0 292.7,469.7C294.7,470.4 296.7,471.1 298.8,471.8C300.8,472.6 302.8,473.4 304.8,474.3C306.8,475.2 308.9,476.1 310.9,477.1C312.9,478.1 314.9,479.1 317.0,480.2C319.0,481.3 321.0,482.4 323.0,483.6C325.1,484.8 327.1,486.1 329.1,487.4C331.1,488.7 333.2,490.1 335.2,491.6C337.2,493.0 340.2,495.3 341.2,496.1"/>
<path class="c" d="M235.8,354.0C236.8,353.9 239.8,353.6 241.8,353.4C243.8,353.2 245.9,353.1 247.9,352.9C249.9,352.8 251.9,352.6 253.9,352.5C256.0,352.4 258.0,352.3 260.0,352.2C262.0,352.0 264.1,351.9 266.1,351.8C268.1,351.7 270.1,351.6 272.1,351.5C274.2,351.3 276.2,351.2 278.2,351.0C280.2,350.9 282.2,350.7 284.3,350.5C286.3,350.3 288.3,350.1 290.3,349.8C292.4,349.6 294.4,349.3 296.4,349.0C298.4,348.6 300.4,348.3 302.5,347.9C304.5,347.5 306.5,347.0 308.5,346.5C310.6,346.0 312.6,345.4 314.6,344.8C316.6,344.2 318.6,343.5 320.7,342.8C322.7,342.0 324.7,341.2 326.7,340.4C328.8,339.5 330.8,338.5 332.8,337.5C334.8,336.5 336.8,335.4 338.9,334.2C340.9,333.0 342.9,331.7 344.9,330.3C346.9,329.0 349.0,327.5 351.0,325.9C353.0,324.4 355.0,322.7 357.1,320.9C359.1,319.2 361.1,317.3 363.1,315.3C365.1,313.3 367.2,311.2 369.2,309.0C371.2,306.8 374.2,303.1 375.2,302.0"/>
<path class="c" d="M482.0,98.2C485.8,99.2 497.4,101.6 505.0,103.8C512.6,105.9 520.0,108.1 527.5,111.2C535.0,114.4 542.5,118.8 550.0,122.5C557.5,126.2 565.0,129.9 572.5,133.8C580.0,137.6 587.1,141.3 595.0,145.5C602.9,149.7 612.3,155.1 620.0,159.0C627.7,162.9 633.1,163.9 641.0,169.0C648.9,174.1 659.3,182.9 667.5,189.8C675.7,196.6 683.0,204.4 690.0,210.0C697.0,215.6 702.0,217.0 709.5,223.5C717.0,230.0 727.8,241.2 735.0,249.0C742.2,256.8 746.5,262.8 753.0,270.0C759.5,277.2 770.5,288.8 774.0,292.5"/>
<path class="c" d="M482.0,117.5C485.8,118.8 497.4,122.3 505.0,125.0C512.6,127.7 520.0,130.6 527.5,133.8C535.0,136.9 542.5,140.2 550.0,143.8C557.5,147.3 565.8,151.5 572.5,155.0C579.2,158.5 582.1,160.4 590.0,164.5C597.9,168.6 610.0,174.2 620.0,179.5C630.0,184.8 640.8,190.1 650.0,196.0C659.2,201.9 667.3,208.5 675.0,215.0C682.7,221.5 689.9,228.8 696.0,235.0C702.1,241.2 705.1,245.8 711.6,252.4C718.1,259.0 728.8,268.0 735.0,274.4C741.2,280.8 744.6,286.1 748.8,290.9C752.9,295.7 757.9,301.2 759.8,303.2"/>
<path class="c" d="M482.0,138.3C483.0,138.7 486.0,139.8 488.1,140.5C490.1,141.3 492.1,142.0 494.1,142.8C496.1,143.5 498.2,144.2 500.2,145.0C502.2,145.7 504.2,146.5 506.2,147.3C508.2,148.0 510.3,148.8 512.3,149.6C514.3,150.3 516.3,151.1 518.3,151.9C520.4,152.7 522.4,153.5 524.4,154.3C526.4,155.1 528.4,155.9 530.5,156.7C532.5,157.5 534.5,158.4 536.5,159.2C538.5,160.0 540.6,160.9 542.6,161.7C544.6,162.6 546.6,163.5 548.6,164.3C550.6,165.2 552.7,166.1 554.7,167.0C556.7,167.9 558.7,168.8 560.7,169.7C562.8,170.7 564.8,171.6 566.8,172.6C568.8,173.5 570.8,174.5 572.9,175.5C574.9,176.4 576.9,177.4 578.9,178.4C580.9,179.4 583.0,180.5 585.0,181.5C587.0,182.6 589.0,183.6 591.0,184.7C593.0,185.8 595.1,186.8 597.1,187.9C599.1,189.1 601.1,190.2 603.1,191.3C605.2,192.5 607.2,193.6 609.2,194.8C611.2,196.0 613.2,197.2 615.3,198.4C617.3,199.6 619.3,200.9 621.3,202.1C623.3,203.4 625.4,204.7 627.4,206.0C629.4,207.3 631.4,208.6 633.4,210.0C635.4,211.3 637.5,212.7 639.5,214.1C641.5,215.5 643.5,216.9 645.5,218.3C647.6,219.8 649.6,221.2 651.6,222.7C653.6,224.2 655.6,225.7 657.7,227.3C659.7,228.8 661.7,230.4 663.7,232.0C665.7,233.6 667.8,235.2 669.8,236.9C671.8,238.5 673.8,240.2 675.8,241.9C677.8,243.6 679.9,245.3 681.9,247.1C683.9,248.9 685.9,250.7 687.9,252.5C690.0,254.3 692.0,256.2 694.0,258.0C696.0,259.9 698.0,261.8 700.1,263.8C702.1,265.7 704.1,267.7 706.1,269.7C708.1,271.7 710.2,273.8 712.2,275.9C714.2,278.0 716.2,280.1 718.2,282.2C720.2,284.4 722.3,286.5 724.3,288.8C726.3,291.0 728.3,293.2 730.3,295.5C732.4,297.8 735.4,301.3 736.4,302.5"/>
<path class="c" d="M482.0,159.8C483.0,160.2 486.1,161.7 488.1,162.7C490.2,163.6 492.2,164.5 494.2,165.4C496.3,166.3 498.3,167.2 500.4,168.1C502.4,169.0 504.4,169.8 506.5,170.6C508.5,171.5 510.6,172.3 512.6,173.1C514.6,173.9 516.7,174.7 518.7,175.5C520.8,176.3 522.8,177.1 524.8,177.9C526.9,178.7 528.9,179.5 531.0,180.3C533.0,181.1 535.0,181.9 537.1,182.7C539.1,183.5 541.1,184.3 543.2,185.1C545.2,185.9 547.3,186.7 549.3,187.5C551.3,188.3 553.4,189.1 555.4,190.0C557.5,190.8 559.5,191.6 561.5,192.5C563.6,193.4 565.6,194.2 567.7,195.1C569.7,196.0 571.7,196.9 573.8,197.8C575.8,198.7 577.9,199.7 579.9,200.6C581.9,201.6 584.0,202.5 586.0,203.5C588.1,204.5 590.1,205.5 592.1,206.6C594.2,207.6 596.2,208.7 598.3,209.8C600.3,210.8 602.3,212.0 604.4,213.1C606.4,214.2 608.5,215.4 610.5,216.6C612.5,217.7 614.6,218.9 616.6,220.2C618.7,221.4 620.7,222.7 622.7,224.0C624.8,225.3 626.8,226.6 628.9,227.9C630.9,229.3 632.9,230.6 635.0,232.1C637.0,233.5 639.0,234.9 641.1,236.4C643.1,237.8 645.2,239.3 647.2,240.8C649.2,242.4 651.3,243.9 653.3,245.5C655.4,247.1 657.4,248.7 659.4,250.4C661.5,252.0 663.5,253.7 665.6,255.4C667.6,257.1 669.6,258.8 671.7,260.6C673.7,262.4 675.8,264.2 677.8,266.0C679.8,267.8 681.9,269.7 683.9,271.6C686.0,273.5 688.0,275.4 690.0,277.3C692.1,279.3 694.1,281.2 696.2,283.2C698.2,285.2 700.2,287.3 702.3,289.3C704.3,291.4 706.4,293.5 708.4,295.6C710.4,297.7 712.5,299.8 714.5,302.0C716.6,304.1 718.6,306.3 720.6,308.5C722.7,310.7 725.7,314.1 726.8,315.2"/>
<path class="e" d="M607.2,152.5C608.0,158.1 610.2,174.8 612.0,186.0C613.8,197.2 616.8,214.3 617.8,220.0"/>
<path class="e" d="M626.8,163.8C627.6,169.8 630.1,188.5 632.0,200.0C633.9,211.5 637.0,227.5 638.0,233.0"/>
<path class="e" d="M638.8,168.7C639.4,172.8 641.0,184.4 642.5,193.0C644.0,201.6 646.0,211.4 648.0,220.0C650.0,228.6 653.4,240.4 654.5,244.5"/>
<path class="e" d="M650.0,176.5C651.0,180.0 654.2,191.1 656.0,197.5C657.8,203.9 659.3,209.7 661.0,215.0C662.7,220.3 664.2,224.8 666.0,229.5C667.8,234.2 670.0,238.8 672.0,243.0C674.0,247.2 675.0,251.5 678.0,255.0C681.0,258.5 684.8,261.0 690.0,264.0C695.2,267.0 702.5,271.2 709.5,273.0C716.5,274.8 725.2,275.0 732.0,274.5C738.8,274.0 746.3,271.1 750.0,270.0C753.7,268.9 753.3,268.3 754.0,268.0"/>
<path class="e" d="M668.0,190.0C668.7,192.3 670.3,199.4 672.0,204.0C673.7,208.6 675.8,213.2 678.0,217.5C680.2,221.8 682.2,225.8 685.5,229.5C688.8,233.2 693.0,236.5 697.5,240.0C702.0,243.5 708.0,248.1 712.5,250.5C717.0,252.9 720.5,253.8 724.5,254.2C728.5,254.8 734.1,253.9 736.5,253.5C738.9,253.1 738.6,252.2 739.0,252.0"/>
<path class="e" d="M700.0,284.0C702.5,284.7 708.8,287.3 715.0,288.0C721.2,288.7 731.3,288.7 737.5,288.0C743.7,287.3 747.6,285.5 752.0,284.0C756.4,282.5 762.0,279.8 764.0,279.0"/>
<path class="e" d="M714.0,300.0C715.0,300.3 716.1,301.8 720.0,302.0C723.9,302.2 731.2,302.5 737.5,301.5C743.8,300.5 751.8,297.9 757.5,296.0C763.2,294.1 769.6,291.0 772.0,290.0"/>
<path class="e" d="M707.0,222.0L680.5,263.5"/>
<path class="c" d="M512.5,484.4C513.5,484.2 516.5,483.7 518.5,483.2C520.6,482.8 522.6,482.3 524.6,481.7C526.6,481.1 528.6,480.5 530.6,479.8C532.7,479.1 534.7,478.4 536.7,477.6C538.7,476.8 540.7,476.0 542.7,475.1C544.7,474.3 546.8,473.4 548.8,472.5C550.8,471.6 552.8,470.6 554.8,469.7C556.8,468.7 558.9,467.7 560.9,466.8C562.9,465.8 564.9,464.7 566.9,463.7C568.9,462.7 570.9,461.7 573.0,460.7C575.0,459.6 577.0,458.6 579.0,457.5C581.0,456.5 583.0,455.5 585.1,454.5C587.1,453.4 589.1,452.4 591.1,451.4C593.1,450.4 595.1,449.4 597.2,448.4C599.2,447.4 601.2,446.4 603.2,445.5C605.2,444.5 607.2,443.6 609.2,442.7C611.3,441.8 613.3,440.9 615.3,440.0C617.3,439.2 619.3,438.3 621.3,437.5C623.4,436.7 625.4,435.9 627.4,435.2C629.4,434.4 631.4,433.7 633.4,433.0C635.4,432.3 637.5,431.7 639.5,431.0C641.5,430.4 643.5,429.8 645.5,429.3C647.5,428.7 649.6,428.2 651.6,427.7C653.6,427.2 655.6,426.8 657.6,426.4C659.6,426.0 661.6,425.6 663.7,425.3C665.7,424.9 667.7,424.6 669.7,424.4C671.7,424.1 673.7,423.9 675.8,423.7C677.8,423.6 679.8,423.4 681.8,423.3C683.8,423.2 685.8,423.1 687.8,423.1C689.9,423.1 691.9,423.1 693.9,423.1C695.9,423.2 697.9,423.2 699.9,423.4C702.0,423.5 704.0,423.6 706.0,423.8C708.0,424.0 710.0,424.2 712.0,424.4C714.1,424.7 716.1,424.9 718.1,425.2C720.1,425.5 722.1,425.8 724.1,426.2C726.1,426.5 728.2,426.9 730.2,427.3C732.2,427.7 734.2,428.1 736.2,428.5C738.2,429.0 740.3,429.4 742.3,429.9C744.3,430.3 746.3,430.8 748.3,431.3C750.3,431.8 752.3,432.3 754.4,432.8C756.4,433.3 758.4,433.8 760.4,434.3C762.4,434.8 764.4,435.3 766.5,435.8C768.5,436.3 771.5,437.1 772.5,437.3"/>
<path class="c" d="M513.8,491.8C514.8,491.4 517.8,490.3 519.8,489.6C521.8,488.8 523.9,488.1 525.9,487.3C527.9,486.6 529.9,485.8 531.9,485.1C534.0,484.3 536.0,483.5 538.0,482.8C540.0,482.0 542.0,481.2 544.1,480.5C546.1,479.7 548.1,478.9 550.1,478.1C552.1,477.4 554.2,476.6 556.2,475.8C558.2,475.1 560.2,474.3 562.2,473.5C564.3,472.8 566.3,472.0 568.3,471.2C570.3,470.5 572.4,469.7 574.4,469.0C576.4,468.2 578.4,467.5 580.4,466.8C582.5,466.0 584.5,465.3 586.5,464.6C588.5,463.9 590.5,463.2 592.6,462.5C594.6,461.8 596.6,461.1 598.6,460.5C600.6,459.8 602.7,459.1 604.7,458.5C606.7,457.9 608.7,457.2 610.8,456.6C612.8,456.0 614.8,455.4 616.8,454.8C618.8,454.3 620.9,453.7 622.9,453.1C624.9,452.6 626.9,452.1 628.9,451.6C631.0,451.1 633.0,450.6 635.0,450.1C637.0,449.7 639.0,449.2 641.1,448.8C643.1,448.4 645.1,448.0 647.1,447.6C649.1,447.2 651.2,446.9 653.2,446.6C655.2,446.2 657.2,445.9 659.2,445.7C661.3,445.4 663.3,445.1 665.3,444.9C667.3,444.7 669.4,444.5 671.4,444.4C673.4,444.2 675.4,444.1 677.4,444.0C679.5,443.9 681.5,443.8 683.5,443.8C685.5,443.7 687.5,443.7 689.6,443.8C691.6,443.8 693.6,443.9 695.6,444.0C697.6,444.1 699.7,444.2 701.7,444.4C703.7,444.6 705.7,444.8 707.8,445.0C709.8,445.3 711.8,445.5 713.8,445.9C715.8,446.2 717.9,446.5 719.9,446.9C721.9,447.3 723.9,447.8 725.9,448.3C728.0,448.8 730.0,449.3 732.0,449.8C734.0,450.4 736.0,451.0 738.1,451.7C740.1,452.3 742.1,453.0 744.1,453.8C746.1,454.5 748.2,455.3 750.2,456.1C752.2,457.0 755.2,458.3 756.2,458.8"/>
<path class="c" d="M513.8,501.4C514.8,501.1 517.8,500.1 519.9,499.5C521.9,498.8 523.9,498.1 526.0,497.4C528.0,496.8 530.1,496.1 532.1,495.4C534.1,494.7 536.2,494.0 538.2,493.3C540.2,492.6 542.3,491.8 544.3,491.1C546.4,490.4 548.4,489.7 550.4,489.0C552.5,488.3 554.5,487.5 556.6,486.8C558.6,486.1 560.6,485.4 562.7,484.7C564.7,484.0 566.7,483.3 568.8,482.6C570.8,481.9 572.9,481.2 574.9,480.5C576.9,479.9 579.0,479.2 581.0,478.5C583.1,477.9 585.1,477.2 587.1,476.6C589.2,476.0 591.2,475.3 593.2,474.7C595.3,474.1 597.3,473.5 599.4,473.0C601.4,472.4 603.4,471.8 605.5,471.3C607.5,470.8 609.5,470.2 611.6,469.7C613.6,469.2 615.7,468.7 617.7,468.3C619.7,467.8 621.8,467.4 623.8,467.0C625.9,466.6 627.9,466.2 629.9,465.8C632.0,465.4 634.0,465.1 636.0,464.8C638.1,464.4 640.1,464.1 642.2,463.9C644.2,463.6 646.2,463.4 648.3,463.2C650.3,462.9 652.4,462.8 654.4,462.6C656.4,462.4 658.5,462.3 660.5,462.2C662.5,462.1 664.6,462.1 666.6,462.0C668.7,462.0 670.7,462.0 672.7,462.0C674.8,462.1 676.8,462.1 678.9,462.2C680.9,462.3 682.9,462.5 685.0,462.6C687.0,462.8 689.0,463.0 691.1,463.2C693.1,463.5 695.2,463.7 697.2,464.0C699.2,464.3 701.3,464.7 703.3,465.0C705.3,465.4 707.4,465.8 709.4,466.3C711.5,466.7 713.5,467.2 715.5,467.7C717.6,468.3 719.6,468.8 721.7,469.4C723.7,470.0 725.7,470.7 727.8,471.3C729.8,472.0 731.8,472.7 733.9,473.5C735.9,474.2 739.0,475.5 740.0,475.9"/>
<path class="c" d="M512.5,510.1C513.5,509.9 516.5,509.4 518.5,509.0C520.5,508.6 522.5,508.2 524.5,507.8C526.5,507.3 528.5,506.8 530.5,506.3C532.5,505.8 534.5,505.3 536.5,504.7C538.5,504.2 540.5,503.6 542.5,503.1C544.5,502.5 546.5,501.9 548.5,501.3C550.5,500.7 552.5,500.1 554.5,499.5C556.5,498.9 558.5,498.3 560.5,497.7C562.5,497.0 564.5,496.4 566.5,495.8C568.5,495.2 570.5,494.6 572.5,494.0C574.5,493.4 576.5,492.8 578.5,492.3C580.5,491.7 582.5,491.1 584.5,490.6C586.5,490.0 588.5,489.5 590.5,489.0C592.5,488.4 594.5,487.9 596.5,487.5C598.5,487.0 600.5,486.5 602.5,486.1C604.5,485.6 606.5,485.2 608.5,484.8C610.5,484.4 612.5,484.0 614.5,483.7C616.5,483.3 618.5,483.0 620.5,482.7C622.5,482.4 624.5,482.1 626.5,481.9C628.5,481.6 630.5,481.4 632.5,481.2C634.5,481.0 636.5,480.8 638.5,480.7C640.5,480.6 642.5,480.5 644.5,480.4C646.5,480.3 648.5,480.2 650.5,480.2C652.5,480.2 654.5,480.2 656.5,480.2C658.5,480.2 660.5,480.2 662.5,480.3C664.5,480.4 666.5,480.5 668.5,480.6C670.5,480.7 672.5,480.9 674.5,481.1C676.5,481.2 678.5,481.4 680.5,481.7C682.5,481.9 684.5,482.1 686.5,482.4C688.5,482.6 690.5,482.9 692.5,483.2C694.5,483.5 696.5,483.8 698.5,484.1C700.5,484.4 702.5,484.8 704.5,485.1C706.5,485.5 708.5,485.8 710.5,486.2C712.5,486.6 714.5,487.0 716.5,487.3C718.5,487.7 721.5,488.3 722.5,488.5"/>
<path class="c" d="M618.0,397.7C619.0,397.6 622.0,397.4 624.1,397.2C626.1,397.0 628.1,396.8 630.1,396.6C632.2,396.4 634.2,396.2 636.2,395.9C638.2,395.7 640.2,395.5 642.3,395.2C644.3,395.0 646.3,394.7 648.3,394.4C650.3,394.1 652.4,393.8 654.4,393.4C656.4,393.1 658.4,392.7 660.5,392.3C662.5,391.9 664.5,391.5 666.5,391.0C668.5,390.6 670.6,390.1 672.6,389.5C674.6,389.0 676.6,388.4 678.7,387.8C680.7,387.2 682.7,386.5 684.7,385.8C686.7,385.1 688.8,384.4 690.8,383.5C692.8,382.7 694.8,381.9 696.8,381.0C698.9,380.1 700.9,379.1 702.9,378.1C704.9,377.0 707.0,376.0 709.0,374.8C711.0,373.6 713.0,372.4 715.0,371.2C717.1,369.9 719.1,368.5 721.1,367.1C723.1,365.7 725.2,364.2 727.2,362.6C729.2,361.0 731.2,359.4 733.2,357.7C735.3,355.9 737.3,354.1 739.3,352.2C741.3,350.3 743.3,348.4 745.4,346.3C747.4,344.2 749.4,342.1 751.4,339.8C753.5,337.6 756.5,334.0 757.5,332.8"/>
<path class="c" d="M74.0,657.5C75.0,657.7 78.0,658.6 80.0,659.1C82.1,659.6 84.1,660.1 86.1,660.6C88.1,661.1 90.1,661.6 92.1,662.1C94.1,662.5 96.2,663.0 98.2,663.5C100.2,663.9 102.2,664.4 104.2,664.8C106.2,665.3 108.3,665.7 110.3,666.2C112.3,666.6 114.3,667.0 116.3,667.5C118.3,667.9 120.3,668.4 122.4,668.9C124.4,669.3 126.4,669.8 128.4,670.2C130.4,670.7 132.4,671.2 134.4,671.7C136.5,672.2 138.5,672.7 140.5,673.2C142.5,673.7 144.5,674.2 146.5,674.8C148.5,675.3 150.6,675.9 152.6,676.4C154.6,677.0 156.6,677.6 158.6,678.2C160.6,678.8 162.7,679.5 164.7,680.1C166.7,680.8 168.7,681.4 170.7,682.1C172.7,682.8 174.7,683.5 176.8,684.3C178.8,685.0 180.8,685.8 182.8,686.6C184.8,687.3 186.8,688.2 188.8,689.0C190.9,689.8 192.9,690.7 194.9,691.6C196.9,692.5 198.9,693.4 200.9,694.3C202.9,695.3 205.0,696.2 207.0,697.2C209.0,698.2 211.0,699.3 213.0,700.3C215.0,701.4 217.1,702.5 219.1,703.6C221.1,704.7 223.1,705.8 225.1,707.0C227.1,708.2 229.1,709.4 231.2,710.6C233.2,711.8 235.2,713.1 237.2,714.4C239.2,715.6 241.2,717.0 243.2,718.3C245.3,719.6 247.3,721.0 249.3,722.4C251.3,723.8 253.3,725.2 255.3,726.7C257.3,728.1 259.4,729.6 261.4,731.1C263.4,732.6 265.4,734.2 267.4,735.7C269.4,737.3 271.5,738.9 273.5,740.5C275.5,742.1 277.5,743.7 279.5,745.4C281.5,747.1 283.5,748.7 285.6,750.5C287.6,752.2 289.6,753.9 291.6,755.6C293.6,757.4 295.6,759.2 297.6,760.9C299.7,762.7 301.7,764.5 303.7,766.4C305.7,768.2 307.7,770.0 309.7,771.9C311.7,773.7 313.8,775.6 315.8,777.5C317.8,779.4 319.8,781.3 321.8,783.2C323.8,785.1 325.9,787.0 327.9,789.0C329.9,790.9 331.9,792.8 333.9,794.8C335.9,796.7 337.9,798.7 340.0,800.6C342.0,802.6 345.0,805.5 346.0,806.5"/>
<path class="c" d="M74.0,687.9C75.0,688.0 78.0,688.2 80.0,688.4C82.0,688.6 84.0,688.8 86.0,689.1C88.0,689.3 90.0,689.6 92.0,689.9C94.0,690.2 96.0,690.5 98.0,690.9C100.0,691.2 102.0,691.6 104.0,692.0C106.0,692.4 108.0,692.8 110.0,693.3C112.0,693.7 114.0,694.2 116.0,694.7C118.0,695.2 120.0,695.7 122.0,696.2C124.0,696.7 126.0,697.3 128.0,697.9C130.0,698.4 132.0,699.0 134.0,699.6C136.0,700.2 138.0,700.9 140.0,701.5C142.0,702.2 144.0,702.8 146.0,703.5C148.0,704.2 150.0,704.9 152.0,705.6C154.0,706.3 156.0,707.1 158.0,707.8C160.0,708.6 162.0,709.3 164.0,710.1C166.0,710.9 168.0,711.7 170.0,712.5C172.0,713.3 174.0,714.1 176.0,715.0C178.0,715.8 180.0,716.7 182.0,717.6C184.0,718.4 186.0,719.3 188.0,720.2C190.0,721.1 192.0,722.0 194.0,723.0C196.0,723.9 198.0,724.9 200.0,725.8C202.0,726.8 204.0,727.8 206.0,728.8C208.0,729.8 210.0,730.8 212.0,731.8C214.0,732.8 216.0,733.9 218.0,734.9C220.0,736.0 222.0,737.0 224.0,738.1C226.0,739.2 228.0,740.3 230.0,741.5C232.0,742.6 234.0,743.7 236.0,744.9C238.0,746.0 240.0,747.2 242.0,748.4C244.0,749.6 246.0,750.8 248.0,752.0C250.0,753.3 252.0,754.5 254.0,755.8C256.0,757.0 258.0,758.3 260.0,759.6C262.0,760.9 264.0,762.3 266.0,763.6C268.0,765.0 270.0,766.4 272.0,767.7C274.0,769.1 276.0,770.6 278.0,772.0C280.0,773.4 282.0,774.9 284.0,776.4C286.0,777.9 288.0,779.4 290.0,781.0C292.0,782.5 294.0,784.1 296.0,785.7C298.0,787.3 300.0,788.9 302.0,790.5C304.0,792.2 306.0,793.9 308.0,795.6C310.0,797.3 312.0,799.1 314.0,800.8C316.0,802.6 318.0,804.4 320.0,806.3C322.0,808.1 325.0,811.0 326.0,811.9"/>
<path class="c" d="M74.0,712.3C75.0,712.5 78.1,713.2 80.1,713.7C82.1,714.1 84.1,714.6 86.2,715.0C88.2,715.5 90.2,715.9 92.2,716.3C94.3,716.7 96.3,717.2 98.3,717.6C100.3,718.0 102.4,718.5 104.4,718.9C106.4,719.3 108.4,719.8 110.5,720.2C112.5,720.7 114.5,721.1 116.5,721.6C118.6,722.0 120.6,722.5 122.6,723.0C124.6,723.5 126.7,724.0 128.7,724.5C130.7,725.0 132.7,725.5 134.8,726.1C136.8,726.6 138.8,727.2 140.8,727.7C142.9,728.3 144.9,728.9 146.9,729.5C148.9,730.1 151.0,730.8 153.0,731.4C155.0,732.1 157.1,732.8 159.1,733.5C161.1,734.2 163.1,734.9 165.2,735.6C167.2,736.4 169.2,737.1 171.2,737.9C173.3,738.7 175.3,739.5 177.3,740.3C179.3,741.2 181.4,742.0 183.4,742.9C185.4,743.8 187.4,744.7 189.5,745.7C191.5,746.6 193.5,747.6 195.5,748.5C197.6,749.5 199.6,750.5 201.6,751.5C203.6,752.6 205.7,753.6 207.7,754.7C209.7,755.8 211.7,756.9 213.8,758.0C215.8,759.1 217.8,760.3 219.8,761.4C221.9,762.6 223.9,763.8 225.9,765.0C227.9,766.2 230.0,767.4 232.0,768.6C234.0,769.9 236.1,771.1 238.1,772.4C240.1,773.7 242.1,775.0 244.2,776.3C246.2,777.6 248.2,778.9 250.2,780.2C252.3,781.5 254.3,782.9 256.3,784.2C258.3,785.6 260.4,786.9 262.4,788.3C264.4,789.7 266.4,791.0 268.5,792.4C270.5,793.8 272.5,795.1 274.5,796.5C276.6,797.9 278.6,799.3 280.6,800.6C282.6,802.0 284.7,803.4 286.7,804.7C288.7,806.1 290.7,807.5 292.8,808.8C294.8,810.1 296.8,811.5 298.8,812.8C300.9,814.1 302.9,815.4 304.9,816.7C306.9,818.0 310.0,819.8 311.0,820.5"/>
<path class="c" d="M74.0,740.3C75.0,740.6 78.1,741.3 80.1,741.9C82.1,742.4 84.1,742.9 86.2,743.4C88.2,744.0 90.2,744.5 92.2,745.0C94.3,745.6 96.3,746.1 98.3,746.6C100.4,747.2 102.4,747.7 104.4,748.2C106.4,748.8 108.5,749.3 110.5,749.9C112.5,750.5 114.6,751.0 116.6,751.6C118.6,752.2 120.6,752.7 122.7,753.3C124.7,753.9 126.7,754.5 128.8,755.1C130.8,755.7 132.8,756.3 134.8,756.9C136.9,757.5 138.9,758.2 140.9,758.8C142.9,759.5 145.0,760.1 147.0,760.8C149.0,761.4 151.1,762.1 153.1,762.8C155.1,763.5 157.1,764.1 159.2,764.9C161.2,765.6 163.2,766.3 165.2,767.0C167.3,767.7 169.3,768.5 171.3,769.2C173.4,770.0 175.4,770.8 177.4,771.6C179.4,772.4 181.5,773.2 183.5,774.0C185.5,774.8 187.6,775.6 189.6,776.5C191.6,777.3 193.6,778.2 195.7,779.1C197.7,780.0 199.7,780.8 201.8,781.8C203.8,782.7 205.8,783.6 207.8,784.6C209.9,785.5 211.9,786.5 213.9,787.5C215.9,788.4 218.0,789.4 220.0,790.5C222.0,791.5 224.1,792.5 226.1,793.6C228.1,794.6 230.1,795.7 232.2,796.8C234.2,797.9 236.2,799.0 238.2,800.2C240.3,801.3 242.3,802.4 244.3,803.6C246.4,804.8 248.4,806.0 250.4,807.2C252.4,808.4 254.5,809.7 256.5,810.9C258.5,812.2 260.6,813.5 262.6,814.8C264.6,816.1 266.6,817.4 268.7,818.7C270.7,820.1 272.7,821.4 274.8,822.8C276.8,824.2 278.8,825.6 280.8,827.0C282.9,828.4 284.9,829.9 286.9,831.4C288.9,832.8 292.0,835.1 293.0,835.8"/>
<path class="e" d="M208.0,699.0C206.8,705.5 203.2,725.0 201.0,738.0C198.8,751.0 196.0,770.5 195.0,777.0"/>
<path class="e" d="M228.2,709.5C227.5,716.2 225.2,736.2 224.0,750.0C222.8,763.8 221.3,785.0 220.8,792.0"/>
<path class="e" d="M240.2,716.2C239.6,720.6 237.2,733.1 236.5,742.5C235.8,751.9 235.7,763.6 235.8,772.5C235.8,781.4 236.6,790.8 237.0,796.0C237.4,801.2 237.8,802.7 238.0,804.0"/>
<path class="e" d="M257.5,729.0C256.9,732.5 254.0,743.0 253.8,750.0C253.5,757.0 254.4,765.2 256.0,771.0C257.6,776.8 260.0,781.0 263.5,784.5C267.0,788.0 272.2,790.8 277.0,792.0C281.8,793.2 287.5,793.0 292.0,792.0C296.5,791.0 300.5,788.8 304.0,786.0C307.5,783.2 311.5,777.2 313.0,775.5"/>
<path class="e" d="M262.0,815.0C262.7,815.0 261.3,816.2 266.0,815.0C270.7,813.8 282.7,810.8 290.0,808.0C297.3,805.2 303.7,801.3 310.0,798.0C316.3,794.7 325.0,789.7 328.0,788.0"/>
<path class="e" d="M282.0,827.0C285.7,825.5 297.0,821.5 304.0,818.0C311.0,814.5 318.7,809.5 324.0,806.0C329.3,802.5 334.0,798.5 336.0,797.0"/>
<path class="e" d="M288.2,753.8L253.0,808.5"/>
<path class="c" d="M108.0,1005.1C109.0,1004.7 112.0,1003.5 114.1,1002.7C116.1,1001.8 118.1,1001.0 120.1,1000.2C122.1,999.4 124.1,998.6 126.2,997.8C128.2,997.0 130.2,996.2 132.2,995.4C134.2,994.6 136.2,993.8 138.3,993.0C140.3,992.3 142.3,991.5 144.3,990.7C146.3,989.9 148.3,989.2 150.4,988.4C152.4,987.7 154.4,986.9 156.4,986.2C158.4,985.5 160.4,984.7 162.5,984.0C164.5,983.3 166.5,982.6 168.5,981.9C170.5,981.2 172.5,980.5 174.6,979.8C176.6,979.1 178.6,978.5 180.6,977.8C182.6,977.2 184.6,976.5 186.7,975.9C188.7,975.3 190.7,974.6 192.7,974.0C194.7,973.4 196.8,972.8 198.8,972.3C200.8,971.7 202.8,971.1 204.8,970.6C206.8,970.0 208.9,969.5 210.9,969.0C212.9,968.5 214.9,968.0 216.9,967.5C218.9,967.0 221.0,966.5 223.0,966.1C225.0,965.6 227.0,965.2 229.0,964.7C231.0,964.3 233.1,963.9 235.1,963.5C237.1,963.1 239.1,962.7 241.1,962.4C243.1,962.0 245.2,961.7 247.2,961.4C249.2,961.0 251.2,960.7 253.2,960.4C255.2,960.1 257.3,959.9 259.3,959.6C261.3,959.3 263.3,959.1 265.3,958.9C267.4,958.7 269.4,958.4 271.4,958.3C273.4,958.1 275.4,957.9 277.4,957.7C279.5,957.6 281.5,957.4 283.5,957.3C285.5,957.2 287.5,957.1 289.5,957.0C291.6,956.9 293.6,956.8 295.6,956.8C297.6,956.7 299.6,956.7 301.6,956.7C303.7,956.6 305.7,956.6 307.7,956.6C309.7,956.6 311.7,956.7 313.7,956.7C315.8,956.7 317.8,956.8 319.8,956.9C321.8,956.9 323.8,957.0 325.8,957.1C327.9,957.2 329.9,957.3 331.9,957.4C333.9,957.6 335.9,957.7 337.9,957.9C340.0,958.0 343.0,958.3 344.0,958.4"/>
<path class="c" d="M108.0,1019.0C109.0,1018.7 112.1,1017.8 114.1,1017.2C116.2,1016.7 118.2,1016.1 120.3,1015.5C122.3,1014.9 124.4,1014.3 126.4,1013.7C128.5,1013.1 130.5,1012.4 132.6,1011.8C134.6,1011.2 136.7,1010.6 138.7,1010.0C140.8,1009.4 142.8,1008.8 144.9,1008.2C146.9,1007.6 149.0,1006.9 151.0,1006.3C153.1,1005.7 155.1,1005.1 157.2,1004.5C159.2,1003.9 161.3,1003.3 163.3,1002.7C165.4,1002.2 167.4,1001.6 169.5,1001.0C171.5,1000.4 173.6,999.8 175.6,999.3C177.7,998.7 179.7,998.2 181.8,997.6C183.8,997.1 185.8,996.5 187.9,996.0C189.9,995.5 192.0,995.0 194.0,994.4C196.1,993.9 198.1,993.4 200.2,993.0C202.2,992.5 204.3,992.0 206.3,991.5C208.4,991.1 210.4,990.6 212.5,990.2C214.5,989.7 216.6,989.3 218.6,988.9C220.7,988.5 222.7,988.1 224.8,987.7C226.8,987.3 228.9,987.0 230.9,986.6C233.0,986.2 235.0,985.9 237.1,985.6C239.1,985.2 241.2,984.9 243.2,984.6C245.3,984.3 247.3,984.0 249.4,983.8C251.4,983.5 253.5,983.3 255.5,983.0C257.5,982.8 259.6,982.5 261.6,982.3C263.7,982.1 265.7,981.9 267.8,981.7C269.8,981.6 271.9,981.4 273.9,981.2C276.0,981.1 278.0,980.9 280.1,980.8C282.1,980.7 284.2,980.6 286.2,980.5C288.3,980.4 290.3,980.3 292.4,980.2C294.4,980.2 296.5,980.1 298.5,980.1C300.6,980.0 302.6,980.0 304.7,980.0C306.7,980.0 308.8,980.0 310.8,980.0C312.9,980.0 314.9,980.0 317.0,980.0C319.0,980.0 321.1,980.1 323.1,980.1C325.2,980.2 328.2,980.3 329.2,980.3"/>
<path class="c" d="M106.5,1031.0C107.5,1030.7 110.5,1029.7 112.5,1029.1C114.5,1028.4 116.5,1027.8 118.6,1027.2C120.6,1026.6 122.6,1026.0 124.6,1025.4C126.6,1024.8 128.6,1024.2 130.6,1023.6C132.6,1023.1 134.6,1022.5 136.6,1022.0C138.6,1021.4 140.7,1020.9 142.7,1020.4C144.7,1019.8 146.7,1019.3 148.7,1018.8C150.7,1018.3 152.7,1017.8 154.7,1017.3C156.7,1016.8 158.7,1016.3 160.7,1015.9C162.7,1015.4 164.8,1014.9 166.8,1014.5C168.8,1014.0 170.8,1013.6 172.8,1013.1C174.8,1012.7 176.8,1012.3 178.8,1011.9C180.8,1011.4 182.8,1011.0 184.8,1010.6C186.9,1010.2 188.9,1009.8 190.9,1009.5C192.9,1009.1 194.9,1008.7 196.9,1008.3C198.9,1008.0 200.9,1007.6 202.9,1007.3C204.9,1006.9 206.9,1006.6 208.9,1006.3C211.0,1005.9 213.0,1005.6 215.0,1005.3C217.0,1005.0 219.0,1004.7 221.0,1004.4C223.0,1004.1 225.0,1003.8 227.0,1003.6C229.0,1003.3 231.0,1003.0 233.1,1002.8C235.1,1002.5 237.1,1002.3 239.1,1002.1C241.1,1001.8 243.1,1001.6 245.1,1001.4C247.1,1001.2 249.1,1001.0 251.1,1000.8C253.1,1000.6 255.2,1000.5 257.2,1000.3C259.2,1000.2 261.2,1000.0 263.2,999.9C265.2,999.7 267.2,999.6 269.2,999.5C271.2,999.4 273.2,999.3 275.2,999.2C277.2,999.2 279.3,999.1 281.3,999.0C283.3,999.0 285.3,998.9 287.3,998.9C289.3,998.9 291.3,998.9 293.3,998.9C295.3,998.9 297.3,999.0 299.3,999.0C301.4,999.0 303.4,999.1 305.4,999.2C307.4,999.3 310.4,999.4 311.4,999.5"/>
<path class="c" d="M106.5,1046.4C107.5,1046.2 110.6,1045.5 112.6,1045.1C114.7,1044.7 116.7,1044.2 118.8,1043.7C120.8,1043.3 122.9,1042.8 124.9,1042.3C127.0,1041.9 129.0,1041.4 131.1,1040.9C133.1,1040.4 135.2,1039.9 137.2,1039.4C139.3,1039.0 141.3,1038.5 143.3,1038.0C145.4,1037.5 147.4,1037.1 149.5,1036.6C151.5,1036.1 153.6,1035.7 155.6,1035.2C157.7,1034.7 159.7,1034.3 161.8,1033.8C163.8,1033.4 165.9,1033.0 167.9,1032.5C170.0,1032.1 172.0,1031.7 174.1,1031.3C176.1,1030.9 178.2,1030.5 180.2,1030.1C182.2,1029.7 184.3,1029.4 186.3,1029.0C188.4,1028.7 190.4,1028.3 192.5,1028.0C194.5,1027.7 196.6,1027.3 198.6,1027.0C200.7,1026.7 202.7,1026.4 204.8,1026.2C206.8,1025.9 208.9,1025.6 210.9,1025.4C213.0,1025.1 215.0,1024.9 217.1,1024.6C219.1,1024.4 221.1,1024.2 223.2,1024.0C225.2,1023.8 227.3,1023.6 229.3,1023.4C231.4,1023.3 233.4,1023.1 235.5,1022.9C237.5,1022.8 239.6,1022.6 241.6,1022.5C243.7,1022.4 245.7,1022.2 247.8,1022.1C249.8,1022.0 251.9,1021.9 253.9,1021.8C255.9,1021.7 258.0,1021.6 260.0,1021.5C262.1,1021.4 264.1,1021.3 266.2,1021.2C268.2,1021.1 270.3,1021.0 272.3,1020.9C274.4,1020.8 276.4,1020.7 278.5,1020.6C280.5,1020.5 282.6,1020.4 284.6,1020.3C286.7,1020.2 289.7,1020.0 290.8,1020.0"/>
<path class="c" d="M202.8,908.9C203.8,908.9 206.8,909.0 208.8,909.0C210.8,909.1 212.8,909.1 214.8,909.2C216.8,909.2 218.8,909.2 220.8,909.2C222.8,909.3 224.8,909.3 226.8,909.3C228.8,909.3 230.8,909.2 232.8,909.2C234.8,909.2 236.8,909.1 238.8,909.0C240.8,908.9 242.8,908.8 244.8,908.7C246.8,908.6 248.8,908.4 250.8,908.2C252.8,908.0 254.8,907.8 256.8,907.5C258.8,907.3 260.8,907.0 262.8,906.7C264.8,906.3 266.8,906.0 268.8,905.6C270.8,905.1 272.8,904.7 274.8,904.2C276.8,903.7 278.8,903.2 280.8,902.6C282.8,902.0 284.8,901.3 286.8,900.6C288.8,899.9 290.8,899.2 292.8,898.4C294.8,897.5 296.8,896.7 298.8,895.7C300.8,894.8 302.8,893.8 304.8,892.8C306.8,891.7 308.8,890.6 310.8,889.4C312.8,888.2 314.8,886.9 316.8,885.6C318.8,884.3 320.8,882.9 322.8,881.4C324.8,879.9 326.8,878.3 328.8,876.7C330.8,875.0 333.8,872.4 334.8,871.5"/>
<path class="c" d="M480.0,676.5C481.0,676.6 484.1,676.8 486.1,677.0C488.1,677.1 490.1,677.3 492.2,677.5C494.2,677.6 496.2,677.8 498.3,678.0C500.3,678.3 502.3,678.5 504.4,678.7C506.4,678.9 508.4,679.2 510.4,679.5C512.5,679.7 514.5,680.0 516.5,680.3C518.6,680.5 520.6,680.8 522.6,681.1C524.7,681.4 526.7,681.7 528.7,682.0C530.7,682.4 532.8,682.7 534.8,683.0C536.8,683.4 538.9,683.7 540.9,684.1C542.9,684.4 544.9,684.8 547.0,685.1C549.0,685.5 551.0,685.9 553.1,686.3C555.1,686.7 557.1,687.0 559.2,687.4C561.2,687.9 563.2,688.3 565.2,688.7C567.3,689.1 569.3,689.5 571.3,690.0C573.4,690.4 575.4,690.8 577.4,691.3C579.5,691.8 581.5,692.2 583.5,692.7C585.5,693.2 587.6,693.6 589.6,694.1C591.6,694.6 593.7,695.1 595.7,695.6C597.7,696.2 599.7,696.7 601.8,697.2C603.8,697.8 605.8,698.3 607.9,698.9C609.9,699.4 611.9,700.0 614.0,700.6C616.0,701.2 618.0,701.8 620.0,702.4C622.1,703.0 624.1,703.6 626.1,704.3C628.2,704.9 630.2,705.6 632.2,706.3C634.3,707.0 636.3,707.7 638.3,708.4C640.3,709.1 642.4,709.8 644.4,710.6C646.4,711.3 648.5,712.1 650.5,712.9C652.5,713.7 654.5,714.5 656.6,715.4C658.6,716.2 660.6,717.1 662.7,718.0C664.7,718.9 666.7,719.8 668.8,720.7C670.8,721.7 672.8,722.7 674.8,723.7C676.9,724.7 678.9,725.7 680.9,726.8C683.0,727.9 685.0,729.0 687.0,730.1C689.1,731.2 691.1,732.4 693.1,733.6C695.1,734.8 697.2,736.1 699.2,737.3C701.2,738.6 703.3,739.9 705.3,741.3C707.3,742.7 709.3,744.1 711.4,745.5C713.4,747.0 715.4,748.5 717.5,750.0C719.5,751.6 721.5,753.2 723.6,754.8C725.6,756.4 727.6,758.1 729.6,759.9C731.7,761.6 733.7,763.4 735.7,765.3C737.8,767.2 739.8,769.1 741.8,771.0C743.9,773.0 745.9,775.1 747.9,777.2C749.9,779.3 753.0,782.6 754.0,783.7"/>
<path class="c" d="M480.0,703.4C481.0,703.5 484.0,703.7 486.0,703.9C488.0,704.1 490.0,704.3 492.0,704.5C494.1,704.7 496.1,705.0 498.1,705.2C500.1,705.4 502.1,705.6 504.1,705.9C506.1,706.1 508.1,706.4 510.1,706.6C512.1,706.9 514.1,707.2 516.1,707.5C518.2,707.7 520.2,708.0 522.2,708.3C524.2,708.6 526.2,708.9 528.2,709.2C530.2,709.6 532.2,709.9 534.2,710.2C536.2,710.6 538.2,710.9 540.2,711.3C542.2,711.6 544.3,712.0 546.3,712.4C548.3,712.8 550.3,713.2 552.3,713.6C554.3,714.0 556.3,714.4 558.3,714.8C560.3,715.3 562.3,715.7 564.3,716.2C566.3,716.6 568.3,717.1 570.4,717.6C572.4,718.1 574.4,718.6 576.4,719.1C578.4,719.6 580.4,720.1 582.4,720.7C584.4,721.2 586.4,721.8 588.4,722.3C590.4,722.9 592.4,723.5 594.5,724.1C596.5,724.7 598.5,725.3 600.5,726.0C602.5,726.6 604.5,727.3 606.5,727.9C608.5,728.6 610.5,729.3 612.5,730.0C614.5,730.7 616.5,731.5 618.5,732.2C620.6,732.9 622.6,733.7 624.6,734.5C626.6,735.3 628.6,736.1 630.6,736.9C632.6,737.8 634.6,738.6 636.6,739.5C638.6,740.3 640.6,741.2 642.6,742.2C644.7,743.1 646.7,744.0 648.7,745.0C650.7,745.9 652.7,746.9 654.7,747.9C656.7,748.9 658.7,750.0 660.7,751.0C662.7,752.1 664.7,753.2 666.7,754.3C668.7,755.4 670.8,756.5 672.8,757.7C674.8,758.9 676.8,760.1 678.8,761.3C680.8,762.5 682.8,763.8 684.8,765.1C686.8,766.3 688.8,767.6 690.8,769.0C692.8,770.3 694.8,771.7 696.9,773.1C698.9,774.5 700.9,775.9 702.9,777.4C704.9,778.9 706.9,780.4 708.9,781.9C710.9,783.5 712.9,785.0 714.9,786.6C716.9,788.2 718.9,789.9 721.0,791.5C723.0,793.2 725.0,794.9 727.0,796.7C729.0,798.4 732.0,801.2 733.0,802.1"/>
<path class="c" d="M480.0,725.9C481.0,726.0 484.1,726.0 486.1,726.2C488.1,726.3 490.2,726.4 492.2,726.6C494.2,726.8 496.2,727.0 498.3,727.3C500.3,727.5 502.3,727.8 504.4,728.1C506.4,728.4 508.4,728.7 510.5,729.0C512.5,729.4 514.5,729.7 516.6,730.1C518.6,730.5 520.6,730.9 522.6,731.3C524.7,731.7 526.7,732.2 528.7,732.6C530.8,733.1 532.8,733.5 534.8,734.0C536.9,734.5 538.9,735.0 540.9,735.5C543.0,736.0 545.0,736.5 547.0,737.0C549.0,737.6 551.1,738.1 553.1,738.6C555.1,739.2 557.2,739.7 559.2,740.3C561.2,740.9 563.3,741.5 565.3,742.0C567.3,742.6 569.4,743.2 571.4,743.8C573.4,744.4 575.4,745.0 577.5,745.6C579.5,746.3 581.5,746.9 583.6,747.5C585.6,748.1 587.6,748.8 589.7,749.4C591.7,750.1 593.7,750.8 595.8,751.4C597.8,752.1 599.8,752.8 601.8,753.5C603.9,754.2 605.9,754.9 607.9,755.6C610.0,756.3 612.0,757.1 614.0,757.8C616.1,758.6 618.1,759.3 620.1,760.1C622.1,760.9 624.2,761.7 626.2,762.5C628.2,763.3 630.3,764.1 632.3,765.0C634.3,765.9 636.4,766.7 638.4,767.6C640.4,768.5 642.5,769.5 644.5,770.4C646.5,771.4 648.5,772.3 650.6,773.4C652.6,774.4 654.6,775.4 656.7,776.5C658.7,777.6 660.7,778.7 662.8,779.8C664.8,781.0 666.8,782.2 668.9,783.4C670.9,784.6 672.9,785.9 674.9,787.2C677.0,788.5 679.0,789.9 681.0,791.3C683.1,792.7 685.1,794.2 687.1,795.7C689.2,797.2 691.2,798.8 693.2,800.4C695.3,802.1 697.3,803.8 699.3,805.5C701.3,807.3 703.4,809.1 705.4,811.0C707.4,812.9 710.5,816.0 711.5,817.0"/>
<path class="c" d="M480.0,753.0C481.0,753.1 484.1,753.3 486.1,753.5C488.1,753.8 490.1,754.0 492.2,754.2C494.2,754.5 496.2,754.7 498.3,755.0C500.3,755.3 502.3,755.6 504.4,755.9C506.4,756.2 508.4,756.6 510.4,756.9C512.5,757.3 514.5,757.6 516.5,758.0C518.6,758.4 520.6,758.8 522.6,759.2C524.6,759.6 526.7,760.1 528.7,760.5C530.7,761.0 532.8,761.4 534.8,761.9C536.8,762.4 538.9,762.9 540.9,763.4C542.9,763.9 544.9,764.4 547.0,765.0C549.0,765.5 551.0,766.1 553.1,766.6C555.1,767.2 557.1,767.8 559.1,768.4C561.2,769.0 563.2,769.6 565.2,770.2C567.3,770.9 569.3,771.5 571.3,772.2C573.4,772.8 575.4,773.5 577.4,774.2C579.4,774.9 581.5,775.6 583.5,776.3C585.5,777.1 587.6,777.8 589.6,778.6C591.6,779.3 593.6,780.1 595.7,780.9C597.7,781.7 599.7,782.5 601.8,783.3C603.8,784.1 605.8,785.0 607.9,785.8C609.9,786.7 611.9,787.6 613.9,788.5C616.0,789.3 618.0,790.3 620.0,791.2C622.1,792.1 624.1,793.1 626.1,794.1C628.1,795.1 630.2,796.1 632.2,797.1C634.2,798.1 636.3,799.2 638.3,800.2C640.3,801.3 642.4,802.4 644.4,803.5C646.4,804.6 648.4,805.8 650.5,806.9C652.5,808.1 654.5,809.3 656.6,810.5C658.6,811.7 660.6,813.0 662.6,814.3C664.7,815.6 666.7,816.9 668.7,818.2C670.8,819.5 672.8,820.9 674.8,822.3C676.9,823.7 678.9,825.1 680.9,826.6C682.9,828.1 686.0,830.4 687.0,831.1"/>
<path class="e" d="M608.0,700.0C607.7,704.3 606.3,716.8 606.0,726.0C605.7,735.2 605.8,745.3 606.0,755.0C606.2,764.7 606.8,779.2 607.0,784.0"/>
<path class="e" d="M620.0,703.0C619.8,709.2 618.8,727.2 618.6,740.0C618.4,752.8 617.4,771.0 618.6,780.0C619.8,789.0 622.4,789.8 626.0,794.0C629.6,798.2 633.9,802.0 640.0,805.0C646.1,808.0 654.6,812.4 662.8,811.8C670.9,811.1 680.5,805.3 689.0,801.2C697.5,797.2 706.2,791.2 713.5,787.2C720.8,783.3 728.1,780.2 732.8,777.6C737.4,775.0 740.0,772.5 741.5,771.5"/>
<path class="e" d="M628.0,704.0C628.0,710.0 627.0,729.0 628.0,740.0C629.0,751.0 631.0,762.3 634.0,770.0C637.0,777.7 642.1,782.5 646.0,786.0C649.9,789.5 651.8,789.8 657.5,790.8C663.2,791.7 673.3,792.6 680.0,791.6C686.7,790.6 691.6,787.5 697.8,784.6C703.9,781.7 711.2,777.5 717.0,774.0C722.8,770.5 730.1,765.3 732.8,763.6"/>
<path class="e" d="M644.0,714.0C644.7,718.3 645.7,733.0 648.0,740.0C650.3,747.0 654.3,751.7 658.0,756.0C661.7,760.3 666.3,764.0 670.0,766.0C673.7,768.0 675.4,768.0 680.0,768.0C684.6,768.0 691.6,768.6 697.8,766.2C703.9,763.9 713.8,756.0 717.0,754.0"/>
<path class="e" d="M682.0,825.0C685.5,822.8 696.0,816.6 703.0,811.8C710.0,806.9 718.2,800.4 724.0,796.0C729.8,791.6 733.9,788.7 738.0,785.5C742.1,782.3 746.8,778.2 748.5,776.8"/>
<path class="e" d="M688.0,731.0L647.0,801.2"/>
<path class="c" d="M520.4,1018.0C521.4,1017.8 524.5,1017.2 526.5,1016.7C528.5,1016.2 530.5,1015.7 532.5,1015.0C534.6,1014.4 536.6,1013.7 538.6,1012.9C540.6,1012.2 542.7,1011.3 544.7,1010.5C546.7,1009.6 548.8,1008.7 550.8,1007.8C552.8,1006.8 554.8,1005.8 556.9,1004.8C558.9,1003.8 560.9,1002.7 562.9,1001.6C564.9,1000.6 567.0,999.5 569.0,998.3C571.0,997.2 573.0,996.1 575.1,994.9C577.1,993.7 579.1,992.5 581.1,991.4C583.2,990.2 585.2,989.0 587.2,987.8C589.2,986.6 591.3,985.4 593.3,984.2C595.3,983.0 597.4,981.8 599.4,980.6C601.4,979.4 603.4,978.2 605.4,977.0C607.5,975.8 609.5,974.6 611.5,973.5C613.5,972.3 615.6,971.1 617.6,970.0C619.6,968.9 621.6,967.7 623.7,966.6C625.7,965.5 627.7,964.4 629.8,963.3C631.8,962.3 633.8,961.2 635.8,960.2C637.8,959.1 639.9,958.1 641.9,957.1C643.9,956.1 646.0,955.1 648.0,954.2C650.0,953.2 652.0,952.3 654.0,951.4C656.1,950.5 658.1,949.6 660.1,948.7C662.1,947.9 664.2,947.0 666.2,946.2C668.2,945.4 670.2,944.6 672.3,943.8C674.3,943.0 676.3,942.2 678.4,941.5C680.4,940.7 682.4,940.0 684.4,939.3C686.4,938.6 688.5,937.9 690.5,937.2C692.5,936.5 694.6,935.9 696.6,935.2C698.6,934.5 700.6,933.9 702.6,933.3C704.7,932.6 706.7,932.0 708.7,931.4C710.8,930.8 712.8,930.1 714.8,929.5C716.8,928.9 718.9,928.3 720.9,927.7C722.9,927.0 724.9,926.4 727.0,925.8C729.0,925.1 731.0,924.5 733.0,923.8C735.0,923.2 737.1,922.5 739.1,921.8C741.1,921.1 743.1,920.4 745.2,919.7C747.2,918.9 750.2,917.7 751.2,917.4"/>
<path class="c" d="M520.4,1038.6C521.4,1038.2 524.4,1037.1 526.4,1036.4C528.4,1035.6 530.4,1034.8 532.4,1034.0C534.5,1033.2 536.5,1032.4 538.5,1031.5C540.5,1030.7 542.5,1029.8 544.5,1028.9C546.5,1028.0 548.5,1027.2 550.5,1026.2C552.5,1025.3 554.5,1024.4 556.5,1023.5C558.6,1022.6 560.6,1021.7 562.6,1020.7C564.6,1019.8 566.6,1018.8 568.6,1017.9C570.6,1016.9 572.6,1016.0 574.6,1015.0C576.6,1014.1 578.6,1013.1 580.6,1012.2C582.7,1011.2 584.7,1010.2 586.7,1009.3C588.7,1008.3 590.7,1007.4 592.7,1006.4C594.7,1005.5 596.7,1004.6 598.7,1003.6C600.7,1002.7 602.7,1001.8 604.7,1000.9C606.7,1000.0 608.8,999.0 610.8,998.2C612.8,997.3 614.8,996.4 616.8,995.5C618.8,994.6 620.8,993.8 622.8,992.9C624.8,992.1 626.8,991.3 628.8,990.5C630.8,989.7 632.9,988.9 634.9,988.1C636.9,987.3 638.9,986.6 640.9,985.8C642.9,985.1 644.9,984.4 646.9,983.7C648.9,983.0 650.9,982.4 652.9,981.7C654.9,981.1 657.0,980.4 659.0,979.9C661.0,979.3 663.0,978.7 665.0,978.1C667.0,977.6 669.0,977.1 671.0,976.6C673.0,976.1 675.0,975.6 677.0,975.2C679.0,974.8 681.0,974.4 683.1,974.0C685.1,973.6 687.1,973.3 689.1,973.0C691.1,972.7 693.1,972.4 695.1,972.2C697.1,971.9 699.1,971.7 701.1,971.5C703.1,971.3 705.1,971.2 707.2,971.1C709.2,971.0 711.2,970.9 713.2,970.9C715.2,970.8 717.2,970.8 719.2,970.8C721.2,970.9 723.2,970.9 725.2,971.0C727.2,971.2 730.2,971.4 731.2,971.5"/>
<path class="c" d="M524.5,1052.5C525.5,1052.3 528.6,1051.7 530.6,1051.2C532.6,1050.8 534.7,1050.2 536.7,1049.7C538.7,1049.1 540.8,1048.5 542.8,1047.8C544.8,1047.2 546.9,1046.5 548.9,1045.8C551.0,1045.1 553.0,1044.3 555.0,1043.5C557.1,1042.8 559.1,1042.0 561.1,1041.2C563.2,1040.4 565.2,1039.5 567.2,1038.7C569.3,1037.9 571.3,1037.0 573.3,1036.1C575.4,1035.3 577.4,1034.4 579.4,1033.6C581.5,1032.7 583.5,1031.8 585.5,1031.0C587.6,1030.1 589.6,1029.3 591.7,1028.4C593.7,1027.6 595.7,1026.7 597.8,1025.9C599.8,1025.1 601.8,1024.2 603.9,1023.4C605.9,1022.6 607.9,1021.8 610.0,1021.1C612.0,1020.3 614.0,1019.5 616.1,1018.8C618.1,1018.1 620.1,1017.4 622.2,1016.7C624.2,1016.0 626.2,1015.3 628.3,1014.7C630.3,1014.0 632.4,1013.4 634.4,1012.8C636.4,1012.2 638.5,1011.6 640.5,1011.1C642.5,1010.5 644.6,1010.0 646.6,1009.5C648.6,1009.0 650.7,1008.6 652.7,1008.2C654.7,1007.7 656.8,1007.3 658.8,1006.9C660.8,1006.6 662.9,1006.2 664.9,1005.9C666.9,1005.6 669.0,1005.3 671.0,1005.0C673.1,1004.7 675.1,1004.5 677.1,1004.3C679.2,1004.0 681.2,1003.8 683.2,1003.7C685.3,1003.5 687.3,1003.3 689.3,1003.2C691.4,1003.1 693.4,1003.0 695.4,1002.9C697.5,1002.8 699.5,1002.7 701.5,1002.7C703.6,1002.6 705.6,1002.6 707.6,1002.6C709.7,1002.5 712.7,1002.5 713.8,1002.5"/>
<path class="c" d="M520.4,1070.4C521.4,1070.2 524.4,1069.7 526.4,1069.3C528.5,1068.9 530.5,1068.5 532.5,1068.0C534.5,1067.6 536.5,1067.1 538.5,1066.6C540.6,1066.1 542.6,1065.5 544.6,1064.9C546.6,1064.4 548.6,1063.8 550.6,1063.2C552.7,1062.6 554.7,1061.9 556.7,1061.3C558.7,1060.7 560.7,1060.0 562.8,1059.3C564.8,1058.7 566.8,1058.0 568.8,1057.3C570.8,1056.6 572.8,1056.0 574.9,1055.3C576.9,1054.6 578.9,1053.9 580.9,1053.2C582.9,1052.5 584.9,1051.9 587.0,1051.2C589.0,1050.5 591.0,1049.9 593.0,1049.2C595.0,1048.5 597.0,1047.9 599.0,1047.3C601.1,1046.6 603.1,1046.0 605.1,1045.4C607.1,1044.8 609.1,1044.2 611.1,1043.6C613.2,1043.1 615.2,1042.5 617.2,1042.0C619.2,1041.5 621.2,1041.0 623.2,1040.5C625.3,1040.1 627.3,1039.6 629.3,1039.2C631.3,1038.8 633.3,1038.4 635.4,1038.0C637.4,1037.7 639.4,1037.4 641.4,1037.1C643.4,1036.8 645.4,1036.5 647.5,1036.3C649.5,1036.1 651.5,1035.9 653.5,1035.8C655.5,1035.7 657.5,1035.6 659.5,1035.5C661.6,1035.5 663.6,1035.4 665.6,1035.5C667.6,1035.5 669.6,1035.6 671.6,1035.7C673.7,1035.8 675.7,1036.0 677.7,1036.2C679.7,1036.4 682.7,1036.9 683.8,1037.0"/>
<path class="c" d="M570.0,911.0C571.0,911.1 574.1,911.4 576.2,911.6C578.3,911.9 580.3,912.1 582.4,912.2C584.5,912.4 586.5,912.6 588.6,912.8C590.7,912.9 592.7,913.1 594.8,913.2C596.9,913.3 598.9,913.4 601.0,913.5C603.1,913.6 605.1,913.6 607.2,913.6C609.3,913.7 611.3,913.7 613.4,913.6C615.5,913.6 617.5,913.6 619.6,913.5C621.7,913.4 623.7,913.3 625.8,913.1C627.9,913.0 629.9,912.8 632.0,912.6C634.1,912.3 636.1,912.1 638.2,911.8C640.3,911.5 642.3,911.1 644.4,910.7C646.5,910.4 648.5,909.9 650.6,909.4C652.7,909.0 654.7,908.4 656.8,907.9C658.9,907.3 660.9,906.6 663.0,906.0C665.1,905.3 667.1,904.5 669.2,903.8C671.3,903.0 673.3,902.1 675.4,901.2C677.5,900.3 679.5,899.3 681.6,898.3C683.7,897.3 685.7,896.2 687.8,895.0C689.9,893.9 691.9,892.6 694.0,891.3C696.1,890.0 698.1,888.7 700.2,887.2C702.3,885.8 704.3,884.3 706.4,882.7C708.5,881.1 710.5,879.5 712.6,877.7C714.7,876.0 716.7,874.2 718.8,872.3C720.9,870.4 724.0,867.4 725.0,866.4"/>
<text class="t" x="78.3" y="100.2" text-anchor="end">50</text>
<text class="t" x="78.0" y="123.1" text-anchor="end">45</text>
<text class="t" x="77.8" y="145.9" text-anchor="end">40</text>
<text class="t" x="77.5" y="168.8" text-anchor="end">35</text>
<text class="t" x="77.2" y="191.6" text-anchor="end">30</text>
<text class="t" x="77.0" y="214.5" text-anchor="end">25</text>
<text class="t" x="76.7" y="237.4" text-anchor="end">20</text>
<text class="t" x="78.4" y="351.7" text-anchor="end" textLength="36" lengthAdjust="spacingAndGlyphs">P (kW)</text>
<text class="t" x="75.1" y="374.5" text-anchor="end">440</text>
<text class="t" x="74.8" y="397.4" text-anchor="end">400</text>
<text class="t" x="74.6" y="420.3" text-anchor="end">360</text>
<text class="t" x="74.3" y="443.1" text-anchor="end">320</text>
<text class="t" x="74.0" y="466.0" text-anchor="end">280</text>
<text class="t" x="73.8" y="488.8" text-anchor="end">240</text>
<text class="t" x="73.5" y="511.7" text-anchor="end">200</text>
<text class="t" x="53.8" y="85.0" textLength="31" lengthAdjust="spacingAndGlyphs">H (m)</text>
<text class="t" x="475.0" y="102.5" text-anchor="end">70</text>
<text class="t" x="474.8" y="125.4" text-anchor="end">65</text>
<text class="t" x="474.6" y="148.3" text-anchor="end">60</text>
<text class="t" x="474.3" y="171.3" text-anchor="end">55</text>
<text class="t" x="474.1" y="194.2" text-anchor="end">50</text>
<text class="t" x="473.9" y="217.2" text-anchor="end">45</text>
<text class="t" x="473.7" y="240.1" text-anchor="end">40</text>
<text class="t" x="473.4" y="263.1" text-anchor="end">35</text>
<text class="t" x="473.2" y="286.0" text-anchor="end">30</text>
<text class="t" x="473.0" y="308.9" text-anchor="end">25</text>
<text class="t" x="472.8" y="331.9" text-anchor="end">20</text>
<text class="t" x="475.1" y="400.7" text-anchor="end" textLength="36" lengthAdjust="spacingAndGlyphs">P (kW)</text>
<text class="t" x="471.9" y="423.7" text-anchor="end">900</text>
<text class="t" x="471.7" y="446.6" text-anchor="end">800</text>
<text class="t" x="471.4" y="469.6" text-anchor="end">700</text>
<text class="t" x="471.2" y="492.5" text-anchor="end">600</text>
<text class="t" x="471.0" y="515.5" text-anchor="end">500</text>
<text class="t" x="450.5" y="87.2" textLength="31" lengthAdjust="spacingAndGlyphs">H (m)</text>
<text class="t" x="67.5" y="660.5" text-anchor="end">60</text>
<text class="t" x="67.2" y="683.4" text-anchor="end">55</text>
<text class="t" x="66.8" y="706.4" text-anchor="end">50</text>
<text class="t" x="66.5" y="729.3" text-anchor="end">45</text>
<text class="t" x="66.1" y="752.3" text-anchor="end">40</text>
<text class="t" x="65.8" y="775.2" text-anchor="end">35</text>
<text class="t" x="65.5" y="798.2" text-anchor="end">30</text>
<text class="t" x="65.1" y="821.2" text-anchor="end">25</text>
<text class="t" x="64.8" y="844.1" text-anchor="end">20</text>
<text class="t" x="66.8" y="913.0" text-anchor="end" textLength="36" lengthAdjust="spacingAndGlyphs">P (kW)</text>
<text class="t" x="63.4" y="936.0" text-anchor="end">800</text>
<text class="t" x="63.1" y="958.9" text-anchor="end">700</text>
<text class="t" x="62.8" y="981.9" text-anchor="end">600</text>
<text class="t" x="62.4" y="1004.8" text-anchor="end">500</text>
<text class="t" x="62.1" y="1027.8" text-anchor="end">400</text>
<text class="t" x="61.7" y="1050.7" text-anchor="end">300</text>
<text class="t" x="61.4" y="1073.7" text-anchor="end">200</text>
<text class="t" x="43.0" y="645.2" textLength="31" lengthAdjust="spacingAndGlyphs">H (m)</text>
<text class="t" x="473.8" y="663.7" text-anchor="end">110</text>
<text class="t" x="473.5" y="686.7" text-anchor="end">100</text>
<text class="t" x="473.3" y="709.8" text-anchor="end">90</text>
<text class="t" x="473.0" y="732.8" text-anchor="end">80</text>
<text class="t" x="472.8" y="755.8" text-anchor="end">70</text>
<text class="t" x="472.5" y="778.8" text-anchor="end">60</text>
<text class="t" x="472.3" y="801.9" text-anchor="end">50</text>
<text class="t" x="472.1" y="824.9" text-anchor="end">40</text>
<text class="t" x="471.8" y="847.9" text-anchor="end">30</text>
<text class="t" x="474.1" y="917.0" text-anchor="end" textLength="36" lengthAdjust="spacingAndGlyphs">P (kW)</text>
<text class="t" x="470.9" y="940.0" text-anchor="end">1800</text>
<text class="t" x="470.6" y="963.1" text-anchor="end">1600</text>
<text class="t" x="470.4" y="986.1" text-anchor="end">1400</text>
<text class="t" x="470.1" y="1009.1" text-anchor="end">1200</text>
<text class="t" x="469.9" y="1032.1" text-anchor="end">1000</text>
<text class="t" x="469.6" y="1055.2" text-anchor="end">800</text>
<text class="t" x="469.4" y="1078.2" text-anchor="end">600</text>
<text class="t" x="449.2" y="648.5" textLength="31" lengthAdjust="spacingAndGlyphs">H (m)</text>
<text class="t" x="80.5" y="523.5" text-anchor="middle">0</text>
<text class="t" x="126.7" y="523.9" text-anchor="middle">1000</text>
<text class="t" x="172.8" y="524.3" text-anchor="middle">2000</text>
<text class="t" x="219.0" y="524.7" text-anchor="middle">3000</text>
<text class="t" x="265.2" y="525.0" text-anchor="middle">4000</text>
<text class="t" x="311.3" y="525.4" text-anchor="middle">5000</text>
<text class="t" x="357.5" y="525.8" text-anchor="middle">6000</text>
<text class="t" x="373.1" y="538.5" textLength="46" lengthAdjust="spacingAndGlyphs">Q(m<tspan font-size="8" dy="-4">3</tspan><tspan dy="4">/h)</tspan></text>
<text class="t" x="478.0" y="527.2" text-anchor="middle">0</text>
<text class="t" x="547.2" y="527.8" text-anchor="middle">2000</text>
<text class="t" x="616.5" y="528.4" text-anchor="middle">4000</text>
<text class="t" x="685.7" y="529.0" text-anchor="middle">6000</text>
<text class="t" x="754.9" y="529.6" text-anchor="middle">8000</text>
<text class="t" x="770.5" y="542.2" textLength="46" lengthAdjust="spacingAndGlyphs">Q(m<tspan font-size="8" dy="-4">3</tspan><tspan dy="4">/h)</tspan></text>
<text class="t" x="68.4" y="1085.5" text-anchor="middle">0</text>
<text class="t" x="114.5" y="1086.0" text-anchor="middle">1200</text>
<text class="t" x="160.7" y="1086.6" text-anchor="middle">2400</text>
<text class="t" x="206.8" y="1087.1" text-anchor="middle">3600</text>
<text class="t" x="253.0" y="1087.7" text-anchor="middle">4800</text>
<text class="t" x="299.1" y="1088.2" text-anchor="middle">6000</text>
<text class="t" x="345.2" y="1088.7" text-anchor="middle">7200</text>
<text class="t" x="360.8" y="1101.5" textLength="46" lengthAdjust="spacingAndGlyphs">Q(m<tspan font-size="8" dy="-4">3</tspan><tspan dy="4">/h)</tspan></text>
<text class="t" x="476.4" y="1090.0" text-anchor="middle">0</text>
<text class="t" x="545.9" y="1090.8" text-anchor="middle">2500</text>
<text class="t" x="615.4" y="1091.6" text-anchor="middle">5000</text>
<text class="t" x="684.9" y="1092.4" text-anchor="middle">7500</text>
<text class="t" x="754.3" y="1093.2" text-anchor="middle">10000</text>
<text class="t" x="770.0" y="1106.0" textLength="46" lengthAdjust="spacingAndGlyphs">Q(m<tspan font-size="8" dy="-4">3</tspan><tspan dy="4">/h)</tspan></text>
<text class="t" x="391.1" y="309.8">15</text>
<text class="t" x="390.8" y="332.7">10</text>
<text class="t" x="390.6" y="355.6">5</text>
<text class="t" x="390.4" y="378.5">0</text>
<text class="t" x="389.9" y="274.5">NPSH</text>
<text class="t" x="398.4" y="291.0" textLength="19" lengthAdjust="spacingAndGlyphs">(m)</text>
<text class="t" x="787.8" y="335.7">12</text>
<text class="t" x="787.7" y="358.6">10</text>
<text class="t" x="787.5" y="381.6">8</text>
<text class="t" x="787.3" y="404.6">6</text>
<text class="t" x="790.6" y="297.9">NPSH</text>
<text class="t" x="799.1" y="314.4" textLength="19" lengthAdjust="spacingAndGlyphs">(m)</text>
<text class="t" x="379.6" y="871.2">15</text>
<text class="t" x="379.2" y="894.3">10</text>
<text class="t" x="378.9" y="917.4">5</text>
<text class="t" x="378.6" y="940.4">0</text>
<text class="t" x="378.5" y="833.4">NPSH</text>
<text class="t" x="387.0" y="849.9" textLength="19" lengthAdjust="spacingAndGlyphs">(m)</text>
<text class="t" x="788.4" y="850.5">20</text>
<text class="t" x="788.1" y="873.5">15</text>
<text class="t" x="787.9" y="896.6">10</text>
<text class="t" x="787.7" y="917.2">5</text>
<text class="t" x="787.2" y="814.5">NPSH</text>
<text class="t" x="795.7" y="831.0" textLength="19" lengthAdjust="spacingAndGlyphs">(m)</text>
<text class="t t2" x="234.4" y="166.0" text-anchor="middle">77</text>
<text class="t t2" x="253.0" y="176.5" text-anchor="middle">81</text>
<text class="t t2" x="267.5" y="183.5" text-anchor="middle">83</text>
<text class="t t2" x="282.0" y="192.0" text-anchor="middle">85</text>
<text class="t t2" x="330.6" y="211.5" text-anchor="middle">η =87%</text>
<text class="t t2" x="349.0" y="238.0" text-anchor="middle">85</text>
<text class="t t2" x="362.0" y="250.7" text-anchor="middle">83</text>
<text class="t t2" x="373.5" y="261.3" text-anchor="middle">81</text>
<text class="t t2" x="314.6" y="276.2" text-anchor="middle">77</text>
<text class="t t2" x="606.0" y="146.0" text-anchor="middle">75</text>
<text class="t t2" x="624.7" y="156.5" text-anchor="middle">79</text>
<text class="t t2" x="638.2" y="163.2" text-anchor="middle">81</text>
<text class="t t2" x="651.5" y="170.7" text-anchor="middle">83</text>
<text class="t t2" x="670.0" y="182.3" text-anchor="middle">85</text>
<text class="t t2" x="724.0" y="211.5" text-anchor="middle">η =87%</text>
<text class="t t2" x="748.0" y="250.5" text-anchor="middle">85</text>
<text class="t t2" x="761.7" y="267.0" text-anchor="middle">83</text>
<text class="t t2" x="770.7" y="279.0" text-anchor="middle">81</text>
<text class="t t2" x="780.5" y="291.7" text-anchor="middle">79</text>
<text class="t t2" x="210.0" y="694.0" text-anchor="middle">75</text>
<text class="t t2" x="230.0" y="706.0" text-anchor="middle">80</text>
<text class="t t2" x="244.7" y="712.7" text-anchor="middle">82</text>
<text class="t t2" x="262.4" y="723.2" text-anchor="middle">84</text>
<text class="t t2" x="301.0" y="745.0" text-anchor="middle">η =86%</text>
<text class="t t2" x="317.5" y="771.2" text-anchor="middle">84</text>
<text class="t t2" x="333.2" y="784.7" text-anchor="middle">82</text>
<text class="t t2" x="343.0" y="794.0" text-anchor="middle">80</text>
<text class="t t2" x="608.5" y="694.0" text-anchor="middle">81</text>
<text class="t t2" x="622.5" y="699.0" text-anchor="middle">83</text>
<text class="t t2" x="634.8" y="703.3" text-anchor="middle">85</text>
<text class="t t2" x="649.5" y="710.0" text-anchor="middle">87</text>
<text class="t t2" x="698.5" y="721.0" text-anchor="middle">η =89%</text>
<text class="t t2" x="725.8" y="750.0" text-anchor="middle">87</text>
<text class="t t2" x="738.4" y="762.4" text-anchor="middle">85</text>
<text class="t t2" x="748.8" y="772.0" text-anchor="middle">83</text>
<text class="t t2" x="758.9" y="781.6" text-anchor="middle">81</text>
<text class="r" x="348.6" y="290.7" text-anchor="middle">III</text>
<text class="r" x="363.4" y="289.7" text-anchor="middle">II</text>
<text class="r" x="373.5" y="292.7" text-anchor="middle">I</text>
<text class="r" x="353.6" y="507.4" text-anchor="middle">III</text>
<text class="r" x="367.0" y="498.4" text-anchor="middle">II</text>
<text class="r" x="379.5" y="493.7" text-anchor="middle">I</text>
<text class="r" x="736.0" y="325.7" text-anchor="middle">III</text>
<text class="r" x="752.5" y="315.7" text-anchor="middle">II</text>
<text class="r" x="768.0" y="308.7" text-anchor="middle">I</text>
<text class="r" x="738.8" y="498.4" text-anchor="middle">III</text>
<text class="r" x="750.0" y="482.2" text-anchor="middle">II</text>
<text class="r" x="767.5" y="463.4" text-anchor="middle">I</text>
<text class="r" x="307.0" y="843.7" text-anchor="middle">III</text>
<text class="r" x="320.0" y="828.7" text-anchor="middle">II</text>
<text class="r" x="332.0" y="817.7" text-anchor="middle">I</text>
<text class="r" x="303.0" y="1024.7" text-anchor="middle">III</text>
<text class="r" x="322.4" y="1003.7" text-anchor="middle">II</text>
<text class="r" x="339.0" y="986.3" text-anchor="middle">I</text>
<text class="r" x="702.0" y="839.2" text-anchor="middle">III</text>
<text class="r" x="722.0" y="826.1" text-anchor="middle">II</text>
<text class="r" x="744.0" y="811.2" text-anchor="middle">I</text>
<text class="r" x="701.2" y="1042.2" text-anchor="middle">III</text>
<text class="r" x="727.5" y="1007.2" text-anchor="middle">II</text>
<text class="r" x="747.5" y="976.0" text-anchor="middle">I</text>
<text class="h1" x="186.8" y="35.7" textLength="24.0" lengthAdjust="spacingAndGlyphs">SBM</text>
<text class="h1" x="212.2" y="35.7" textLength="27.0" lengthAdjust="spacingAndGlyphs">700</text>
<rect x="246.2" y="31.1" width="8" height="1.3" fill="#111"/>
<text class="h1" x="257.8" y="35.7" textLength="35.0" lengthAdjust="spacingAndGlyphs">570B</text>
<text class="h2" x="185.8" y="61.2" textLength="4.5" lengthAdjust="spacingAndGlyphs" style="font-size:16px">(</text>
<text class="h2" x="193.8" y="59.7" textLength="7.2" lengthAdjust="spacingAndGlyphs">n</text>
<rect x="205.6" y="54.5" width="7" height="1.1" fill="#111"/>
<rect x="205.6" y="57.1" width="7" height="1.1" fill="#111"/>
<text class="h2" x="216.8" y="59.7" textLength="22.0" lengthAdjust="spacingAndGlyphs">960</text>
<text class="h2" x="239.6" y="59.7" textLength="5.1" lengthAdjust="spacingAndGlyphs">r</text>
<line x1="246.2" y1="60.2" x2="255.8" y2="51.2" stroke="#111" stroke-width="1.1"/>
<text class="h2" x="260.8" y="59.7" textLength="23.0" lengthAdjust="spacingAndGlyphs">min</text>
<text class="h2" x="287.8" y="61.2" textLength="4.5" lengthAdjust="spacingAndGlyphs" style="font-size:16px">)</text>
<text class="h1" x="592.7" y="35.3" textLength="24.0" lengthAdjust="spacingAndGlyphs">SBM</text>
<text class="h1" x="618.2" y="35.3" textLength="27.0" lengthAdjust="spacingAndGlyphs">700</text>
<rect x="652.2" y="30.7" width="8" height="1.3" fill="#111"/>
<text class="h1" x="663.7" y="35.3" textLength="35.0" lengthAdjust="spacingAndGlyphs">710A</text>
<text class="h2" x="591.7" y="60.0" textLength="4.5" lengthAdjust="spacingAndGlyphs" style="font-size:16px">(</text>
<text class="h2" x="599.7" y="58.5" textLength="7.2" lengthAdjust="spacingAndGlyphs">n</text>
<rect x="611.5" y="53.3" width="7" height="1.1" fill="#111"/>
<rect x="611.5" y="55.9" width="7" height="1.1" fill="#111"/>
<text class="h2" x="622.7" y="58.5" textLength="22.0" lengthAdjust="spacingAndGlyphs">960</text>
<text class="h2" x="645.5" y="58.5" textLength="5.1" lengthAdjust="spacingAndGlyphs">r</text>
<line x1="652.2" y1="59.0" x2="661.7" y2="50.0" stroke="#111" stroke-width="1.1"/>
<text class="h2" x="666.7" y="58.5" textLength="23.0" lengthAdjust="spacingAndGlyphs">min</text>
<text class="h2" x="693.7" y="60.0" textLength="4.5" lengthAdjust="spacingAndGlyphs" style="font-size:16px">)</text>
<text class="h1" x="180.6" y="596.9" textLength="24.0" lengthAdjust="spacingAndGlyphs">SBM</text>
<text class="h1" x="206.1" y="596.9" textLength="27.0" lengthAdjust="spacingAndGlyphs">700</text>
<rect x="240.1" y="592.3" width="8" height="1.3" fill="#111"/>
<text class="h1" x="251.6" y="596.9" textLength="35.0" lengthAdjust="spacingAndGlyphs">710B</text>
<text class="h2" x="179.6" y="622.8" textLength="4.5" lengthAdjust="spacingAndGlyphs" style="font-size:16px">(</text>
<text class="h2" x="187.6" y="621.3" textLength="7.2" lengthAdjust="spacingAndGlyphs">n</text>
<rect x="199.4" y="616.1" width="7" height="1.1" fill="#111"/>
<rect x="199.4" y="618.7" width="7" height="1.1" fill="#111"/>
<text class="h2" x="210.6" y="621.3" textLength="22.0" lengthAdjust="spacingAndGlyphs">960</text>
<text class="h2" x="233.4" y="621.3" textLength="5.1" lengthAdjust="spacingAndGlyphs">r</text>
<line x1="240.1" y1="621.8" x2="249.6" y2="612.8" stroke="#111" stroke-width="1.1"/>
<text class="h2" x="254.6" y="621.3" textLength="23.0" lengthAdjust="spacingAndGlyphs">min</text>
<text class="h2" x="281.6" y="622.8" textLength="4.5" lengthAdjust="spacingAndGlyphs" style="font-size:16px">)</text>
<text class="h1" x="584.8" y="598.9" textLength="24.0" lengthAdjust="spacingAndGlyphs">SBM</text>
<text class="h1" x="610.2" y="598.9" textLength="27.0" lengthAdjust="spacingAndGlyphs">700</text>
<rect x="644.2" y="594.3" width="8" height="1.3" fill="#111"/>
<text class="h1" x="655.8" y="598.9" textLength="35.0" lengthAdjust="spacingAndGlyphs">830A</text>
<text class="h2" x="583.8" y="624.8" textLength="4.5" lengthAdjust="spacingAndGlyphs" style="font-size:16px">(</text>
<text class="h2" x="591.8" y="623.3" textLength="7.2" lengthAdjust="spacingAndGlyphs">n</text>
<rect x="603.5" y="618.1" width="7" height="1.1" fill="#111"/>
<rect x="603.5" y="620.7" width="7" height="1.1" fill="#111"/>
<text class="h2" x="614.8" y="623.3" textLength="22.0" lengthAdjust="spacingAndGlyphs">960</text>
<text class="h2" x="637.5" y="623.3" textLength="5.1" lengthAdjust="spacingAndGlyphs">r</text>
<line x1="644.2" y1="623.8" x2="653.8" y2="614.8" stroke="#111" stroke-width="1.1"/>
<text class="h2" x="658.8" y="623.3" textLength="23.0" lengthAdjust="spacingAndGlyphs">min</text>
<text class="h2" x="685.8" y="624.8" textLength="4.5" lengthAdjust="spacingAndGlyphs" style="font-size:16px">)</text>
<circle cx="355.8" cy="1094.5" r="1" fill="#222"/>
<path d="M590,1066 l5,3 l-2,1 z" fill="#222" stroke="#222" stroke-width="1.2"/>
<circle cx="557.5" cy="1099" r="0.9" fill="#333"/>
<circle cx="489.5" cy="205" r="0.8" fill="#555"/>
<circle cx="25.5" cy="572" r="0.9" fill="#888"/>
<circle cx="43.5" cy="605.5" r="0.9" fill="#999"/>
</svg>
</body></html>
